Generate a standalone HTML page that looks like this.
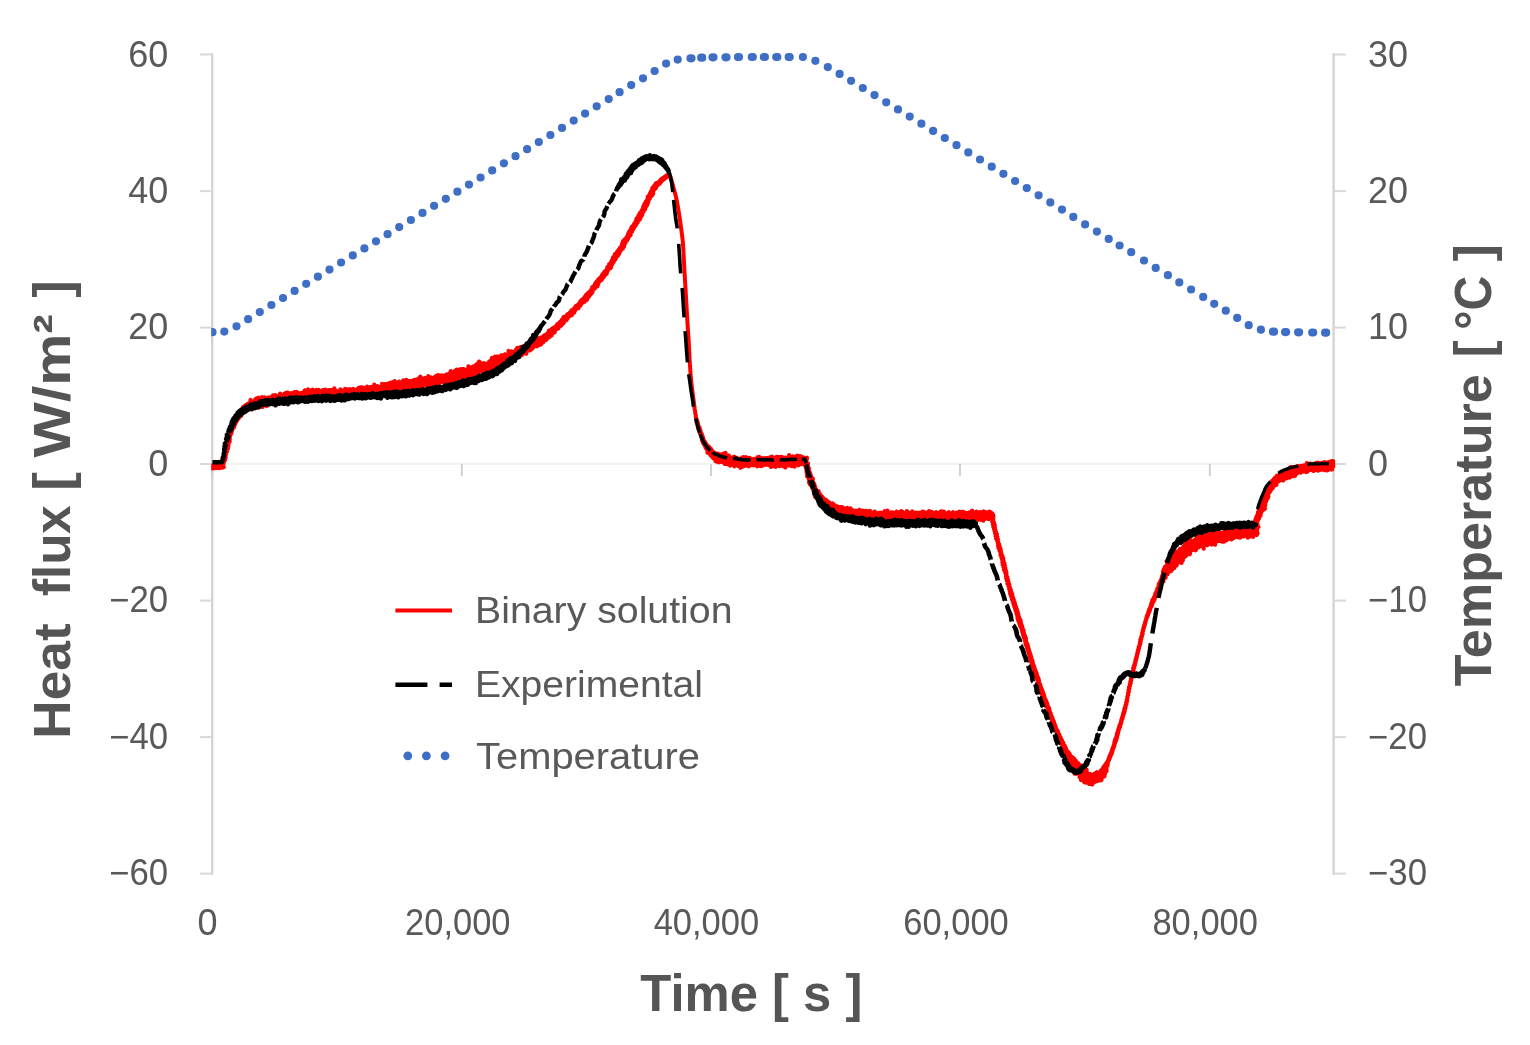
<!DOCTYPE html>
<html lang="en">
<head>
<meta charset="utf-8">
<title>Heat flux and temperature versus time</title>
<style>
html,body{margin:0;padding:0;background:#fff;}
body{width:1530px;height:1045px;overflow:hidden;}
svg{display:block;filter:blur(0.6px);}
text{font-family:"Liberation Sans",sans-serif;fill:#595959;}
.tick{font-size:36px;}
.ttl{font-size:51.5px;font-weight:bold;fill:#555;}
.leg{font-size:36.2px;}
.ax{stroke:#d4d4d4;stroke-width:2.4;fill:none;}
.ax .tk{stroke:#d9d9d9;stroke-width:2;}
</style>
</head>
<body>
<svg width="1530" height="1045" viewBox="0 0 1530 1045">
<rect width="1530" height="1045" fill="#fff"/>
<!-- axes -->
<g class="ax">
<line x1="212.2" y1="53.3" x2="212.2" y2="874.8"/>
<line x1="1333.6" y1="53.3" x2="1333.6" y2="874.8"/>
<line class="tk" x1="200" y1="54.5" x2="212.2" y2="54.5"/>
<line class="tk" x1="200" y1="191.1" x2="212.2" y2="191.1"/>
<line class="tk" x1="200" y1="327.6" x2="212.2" y2="327.6"/>
<line class="tk" x1="200" y1="464" x2="212.2" y2="464"/>
<line class="tk" x1="200" y1="600.6" x2="212.2" y2="600.6"/>
<line class="tk" x1="200" y1="737.1" x2="212.2" y2="737.1"/>
<line class="tk" x1="200" y1="873.6" x2="212.2" y2="873.6"/>
<line class="tk" x1="1333.6" y1="54.5" x2="1346" y2="54.5"/>
<line class="tk" x1="1333.6" y1="191.1" x2="1346" y2="191.1"/>
<line class="tk" x1="1333.6" y1="327.6" x2="1346" y2="327.6"/>
<line class="tk" x1="1333.6" y1="464" x2="1346" y2="464"/>
<line class="tk" x1="1333.6" y1="600.6" x2="1346" y2="600.6"/>
<line class="tk" x1="1333.6" y1="737.1" x2="1346" y2="737.1"/>
<line class="tk" x1="1333.6" y1="873.6" x2="1346" y2="873.6"/>
</g>
<line x1="212" y1="463.8" x2="1334" y2="463.8" stroke="#f2f2f2" stroke-width="2.2"/>
<g stroke="#cdcdcd" stroke-width="1.8" fill="none">
<line x1="212.3" y1="464" x2="212.3" y2="476"/>
<line x1="461.8" y1="464" x2="461.8" y2="476"/>
<line x1="711" y1="464" x2="711" y2="476"/>
<line x1="960" y1="464" x2="960" y2="476"/>
<line x1="1209.8" y1="464" x2="1209.8" y2="476"/>
</g>
<!-- temperature -->
<clipPath id="plot"><rect x="211.2" y="40" width="1124" height="840"/></clipPath>
<path d="M211.5 332.2h1.0M224.3 331.6h0M236.5 326.3h0M248.1 319.2h0M259.8 312.1h0M271.4 305.0h0M283.0 298.0h0M294.6 290.9h0M306.2 283.8h0M317.9 276.7h0M329.5 269.6h0M341.1 262.5h0M352.8 255.4h0M364.4 248.4h0M376.0 241.3h0M387.6 234.2h0M399.2 227.1h0M410.9 220.0h0M422.5 212.9h0M434.1 205.8h0M445.8 198.8h0M457.4 191.7h0M469.0 184.6h0M480.6 177.5h0M492.2 170.4h0M503.9 163.3h0M515.5 156.2h0M527.1 149.2h0M538.8 142.1h0M550.4 135.0h0M562.0 127.9h0M573.7 120.6h0M585.1 113.6h0M596.7 106.3h0M608.7 99.1h0M619.6 92.2h0M631.2 85.1h0M643.0 78.3h0M654.6 71.0h0M666.1 63.6h0M677.7 59.6h0M690.5 58.3h1.0M701.2 57.7h1.0M712.5 57.3h1.0M725.5 57.3h1.0M738.0 57.0h1.0M751.8 57.0h1.0M763.9 57.0h1.0M776.3 57.0h1.0M788.7 57.0h1.0M802.9 57.0h0M815.4 60.8h0M827.8 67.1h0M839.6 73.9h0M851.1 80.8h0M862.8 88.0h0M874.5 95.1h0M886.2 102.3h0M898.0 109.4h0M909.7 116.6h0M921.4 123.7h0M933.1 130.9h0M944.8 138.0h0M956.5 145.2h0M968.3 152.4h0M980.0 159.5h0M991.7 166.7h0M1003.4 173.8h0M1015.1 181.0h0M1026.8 188.1h0M1038.6 195.3h0M1050.3 202.4h0M1062.0 209.6h0M1073.3 216.9h0M1085.1 224.4h0M1096.9 231.6h0M1108.7 238.9h0M1119.6 245.5h0M1131.2 252.2h0M1144.0 260.5h0M1155.7 267.9h0M1167.9 275.2h0M1179.3 282.4h0M1191.1 289.5h0M1203.2 296.9h0M1214.2 303.8h0M1225.8 310.7h0M1237.2 317.9h0M1248.7 325.2h0M1260.9 329.7h0M1273.0 331.7h1.0M1285.1 332.1h1.0M1298.1 332.3h1.0M1312.2 332.5h1.0M1325.1 332.7h1.0" fill="none" stroke="#3f6ec5" stroke-width="8.2" stroke-linecap="round" clip-path="url(#plot)"/>
<!-- binary solution -->
<g fill="none" stroke="#ff0000" stroke-width="4" stroke-linejoin="round" clip-path="url(#plot)">
<path d="M212.1 464.5L212.2 468L212.7 465.2L212.8 468.6L213.3 465.3L213.4 468.2L213.9 465.3L214 468.3L214.5 464.9L214.6 468.3L215.1 465.4L215.3 467.6L215.7 465.1L215.9 467.8L216.3 465.3L216.5 467.9L216.9 465.1L217.1 468L217.4 465.9L217.7 468L218 465.6L218.3 468.1L218.6 466.2L218.9 468L219.2 466L219.5 468.3L219.7 466L220.4 467.7L219.9 465.8L221.3 467.6L219.8 465.8L222.6 467.7L220.1 465.7L223.9 467L220.9 464.6L223.5 464.4L221.5 462.5L224.1 462L222.3 460.4L225.3 459.9L222.3 457.8L225.8 457.2L223.6 455.2L226.1 454.3L224.5 452.4L227.1 451.5L224.8 449.5L228 448.8L225 446.8L228.5 446.2L225.3 444.1L228.8 443.6L226.4 441.7L229.8 441.2L227.1 439.3L229.9 438.8L227.9 437.1L229.9 436.6L228.5 435.1L230.7 434.8L228.5 433.1L231.6 433.1L229.4 431.4L231.9 431.4L229.8 429.7L232.5 429.8L230.6 428.2L233.1 428.4L231.2 426.7L234.2 427.2L231.5 425.2L234.4 425.8L232.1 423.9L235.1 424.6L232.3 422.5L235.5 423.4L233 421.3L236.1 422.3L234.2 420.5L236.7 421.2L234.5 419.2L237.3 420.2L235 418.2L237.8 419.2L236.2 417.6L238.7 418.5L236.3 416.3L238.9 417.4L236.9 415.4L239.7 416.7L237.8 414.7L240.7 416.1L237.7 413.3L241.5 415.5L238.5 412.6L241.4 414.1L239.4 412L242.6 413.8L240.1 411.3L242.9 412.9L240.3 410.1L243.5 412.2L241.8 410.1L244.2 411.7L242 409L244.8 411.2L243 408.7L245.5 410.8L242.9 407.4L246.4 410.8L243.5 406.7L246.7 410.2L244.7 406.9L246.4 408.6L244.9 406L246.9 408.1L245.7 405.6L248.4 408.9L246 404.7L249.4 409.3L246.9 404.6L249.2 407.8L247.4 404L249.4 406.9L248 403.7L250.5 407.5L248.8 403.5L251.2 407.5L249.9 404.2L251.6 407.1L250 402.6L252.3 407.2L250.3 401.5L253 407.4L250.5 399.8L253.8 408L251.7 401.1L254.1 406.9L252.7 401.8L255.2 408.4L253.5 402.3L255.6 407.8L253.8 401.2L255.6 406L254.7 401.6L256.3 406.3L255.2 401.3L257.3 407.6L255.3 399.3L257.8 407.1L256.1 399.4L258.5 407.3L256.5 398.5L259 407.1L257.1 398.3L259.1 405.1L257.7 398.1L259.9 405.8L258.3 397.6L260.5 405.8L259.2 398.9L261.3 406.6L259.9 398.7L261.8 406.2L260.5 398.5L262.6 407L261.1 398.7L262.8 405.3L261.8 398.7L263.2 404.3L262.1 397L264 405.1L262.9 397.7L264.4 404.1L263.5 397.7L264.9 403.2L264.1 397.5L265.8 404.8L264.7 397.2L266.6 406L265.5 398.2L267.2 405.7L266 397.9L267.6 404.4L266.8 398.6L268.2 404.4L267.2 397.7L268.8 404.3L268 398.3L269.4 404.1L268.5 397.6L269.9 403.8L269.2 397.9L270.4 402.8L269.8 397.9L271 403.1L270.3 397.6L271.6 402.6L270.9 397.5L272.2 402.7L271.6 397.7L273.1 404.3L272 396.5L273.7 404.2L272.7 396.8L273.9 402.1L273 395.3L274.8 403.3L273.8 396L275.2 402.4L274.6 396.9L275.8 402.1L275.2 396.7L276.4 402.3L275.5 395.1L277.1 402.8L276.3 395.9L277.5 401.2L276.9 396.2L278.1 401.2L277.6 396.3L279 402.7L278.3 396.7L279.8 403.9L278.8 396.5L279.9 401.2L279.6 397.2L280.7 402.2L279.7 394.2L281.2 401.4L280.2 393.5L281.9 401.8L281.1 395.3L282.4 401.4L281.8 395.9L283 401.2L282.4 395.6L283.6 401.3L283 395.6L284.2 401.6L283.7 395.6L284.9 401.8L284.1 394.1L285.5 402.1L284.6 393.5L286.1 401.5L285.2 393.7L286.5 400.5L285.9 394.1L287.1 400.4L286.3 392.7L287.6 399.7L287 392.8L288.3 400.4L287.6 392.6L289 401.1L288.4 394.1L289.4 399.4L288.8 392.9L290.1 399.8L289.5 393.2L290.7 400.3L290.1 393.4L291.4 400.7L290.8 394.1L291.9 399.7L291.3 392.9L292.4 398.9L292.1 394.1L292.9 398.7L292.8 394.8L293.8 400.8L293.2 393.7L294.3 400.2L293.8 393.3L294.9 399.9L294.3 392.1L295.4 399.3L295.1 393.4L296.1 400.1L295.6 392.6L296.7 399.5L296.2 392.6L297.2 399.1L296.7 391.8L297.8 399L297.4 392.5L298.5 400.2L298.1 392.8L299 398.5L298.7 393.3L299.6 399.1L299.3 393.3L300.3 399.7L299.9 393.2L301 400.7L300.6 393.9L301.6 400.3L301.2 393.5L302 398.2L301.7 392.8L302.6 399.1L302.3 392.7L303.2 398.3L302.9 392.5L303.7 397.2L303.6 393.4L304.4 398.4L304.1 391.9L305 398.1L304.5 390.6L305.7 399.9L305.1 390.2L306.2 398.9L305.9 391.7L306.9 399.3L306.5 392.1L307.3 397.3L307.1 391.6L308 398.1L307.7 391.5L308.6 398.2L308.1 389.3L309.2 398.1L309 392.4L309.8 397.9L309.6 392.6L310.4 397.9L310.1 390.8L310.9 397.3L310.6 390.4L311.6 398.5L311.3 390.8L312.1 397.7L311.9 390.7L312.7 396.9L312.4 389.6L313.3 397.8L313.1 390.6L313.9 397.9L313.7 391.3L314.6 398L314.4 392L315 396.4L315.1 392.7L315.6 396.2L315.6 391.3L316.3 397.8L316.1 389.8L316.9 397.4L316.8 392.1L317.5 396.7L317.4 391.4L318.1 397.7L318 390.7L318.7 398.3L318.5 389.7L319.4 399.6L319.3 391.9L319.9 397.9L319.8 390.5L320.5 398.8L320.4 391.1L321.1 397.1L321.1 392.1L321.7 397.5L321.7 391.3L322.2 397L322.2 390.4L322.9 398.1L322.8 390L323.4 397.1L323.5 390.7L324 396.8L324.1 391L324.6 397.5L324.6 389.9L325.2 397.2L325.2 389.5L325.8 396.8L325.9 391.1L326.4 397L326.5 390.4L327 397.7L327.1 391.4L327.6 397.4L327.7 391L328.2 397.6L328.3 390.1L328.8 399L328.9 390.6L329.4 397.4L329.5 390L330 397.8L330.1 389.9L330.6 398.7L330.7 390.4L331.2 397.2L331.3 390.8L331.8 396.3L331.9 390L332.4 397.3L332.5 390.1L333 396.3L333.1 390.5L333.5 395.6L333.7 390.5L334.2 396L334.3 388.3L334.8 397.7L334.9 389.9L335.4 397.7L335.5 390.4L336 399.4L336.1 390.6L336.6 398L336.7 391L337.2 396.1L337.3 391.3L337.8 397.8L338 391.5L338.4 397.3L338.5 391.3L339 398.3L339.2 391.9L339.6 398.3L339.7 390.9L340.2 397.3L340.3 389.3L340.8 398.3L341 391.6L341.4 397.5L341.6 391.8L342 398.3L342.1 390.8L342.6 397.4L342.7 391L343.2 396.8L343.3 390.7L343.8 398.5L343.9 390.1L344.4 398.4L344.5 390.5L345 397.8L345.1 388.8L345.6 396.7L345.7 389.7L346.2 397.1L346.3 390.5L346.9 397.9L346.9 390.7L347.4 396.7L347.4 389.3L348.1 398L348.1 390.4L348.6 395.7L348.7 390.8L349.2 395.4L349.3 390.2L349.8 396.2L349.8 388.9L350.5 396.7L350.5 391.3L351.1 396.4L351 389.9L351.6 395.3L351.6 389.7L352.2 395.5L352.2 390.1L353 398L352.7 389L353.5 396.2L353.3 388.8L354.1 396.3L354 390.4L354.7 395.7L354.5 389.7L355.5 396.9L355.2 390.3L356.2 397.7L355.7 389.9L356.5 395.2L356.3 390.5L357.2 395.6L356.9 389.7L358 397L357.4 389L358.7 397.7L358.1 389.8L359.1 395.9L358.4 387.9L359.6 394.6L359 388.1L360.3 395.1L359.5 387.6L360.7 394.1L360.1 387.2L361.4 394.6L360.8 388.4L362.2 395.4L361.5 388.5L363 396.7L361.9 387.3L363.6 396.6L362.6 388.2L363.9 394.7L363.2 388.3L364.4 393.9L363.8 387.8L365 393.8L364.4 388.1L366 395.6L365 387.8L366.3 393.8L365.7 388.3L366.9 393.8L366.4 389L367.7 394.7L366.9 388.5L368.1 393.5L367.2 386.6L368.8 394.2L368.2 388.5L369.7 395.8L368.9 388.9L370.2 394.8L369.4 388.4L370.9 395.8L369.9 387.8L371.3 394.5L370.4 386.9L372 394.9L371.2 388.2L372.4 393.4L371.7 387.2L373.2 394.7L372.2 386.7L373.7 394.3L372.8 386.8L374.2 393.2L373.5 387.1L374.6 392L374.1 387L375.5 393.6L374.3 384.4L375.9 392.6L375.3 386.6L376.6 393.2L376 386.9L377.3 393.6L376.5 386.4L377.9 393.5L377.1 386.2L378.6 393.8L377.6 386.1L379.1 393.4L378.3 386.5L379.9 393.9L379 387L380.3 392.7L379.6 386.8L381.1 393.9L380.3 387.3L381.3 391.6L381 387.6L381.9 391.4L381.5 387.1L382.6 391.7L381.9 386.1L383.2 391.8L382.1 383.8L383.9 392L383.2 386.1L384.4 391.1L383.8 386L385.2 392.5L384.4 386L385.7 392L384.6 383.9L386.1 390.5L385.3 384.2L386.7 390.2L386 384.6L387.5 391.4L386.5 383.9L388.1 391.4L387.4 385.8L388.4 389.7L387.9 385L389.1 389.8L388.6 385.3L389.9 391.2L388.8 383.2L390.3 389.8L389.6 384L391 390.4L390 382.7L391.3 388.4L390.6 382.8L392 388.8L391.5 384.1L392.8 389.7L391.9 382.7L393.3 389.2L392.4 382.2L394 389.7L393 381.9L394.9 391.6L393.6 382.2L395.2 389.7L394.2 381.9L395.9 390.3L394.7 381L396.6 390.6L395.6 383L397.4 391.8L396.4 383.9L397.8 390.7L397 383.6L398.3 389.5L397.6 383.7L398.7 388.8L398 382.3L399.3 388.3L398.6 382.4L400.2 389.9L399.1 381.4L400.8 389.9L399.8 381.9L401 387.4L400.5 382.6L401.6 387.5L401.1 382.4L402.4 388.8L401.8 382.8L402.8 387.3L402.3 381.8L403.5 387.8L403.1 383L404.2 388.5L403.3 380.3L404.7 387.7L404 380.7L405.5 389.1L404.8 382.5L406 388.7L405.6 383.4L406.5 387.7L406 381.8L406.9 386.2L406.3 379.7L407.6 387.1L407.2 381.9L408.5 388.8L407.9 382.8L409.2 389.3L408.3 381.2L409.7 388.9L409.1 382L410.3 388.7L409.5 381.1L411 389.3L410.2 381.1L411.5 388.3L410.8 381.6L412 387.5L411.4 381L412.5 387.1L411.9 380.7L413.2 387.2L412.6 381L413.6 386L413.3 381.9L414.2 385.5L413.8 380.6L414.9 386.4L414.2 379.8L415.6 386.9L415 380.6L416 385.4L415.5 379.8L416.7 385.9L416.1 379.8L417.5 387.4L416.7 379.6L417.9 385.9L417.2 379.4L418.5 385.5L417.8 379.1L419.4 387.4L418.4 379.1L420 387.7L418.9 378.5L420.5 386.7L419.4 377.7L421.2 387.4L420.2 378.6L421.8 387.1L420.4 376.4L422.3 386.1L421.4 378.5L423 386.6L422 378.6L423.4 385.6L422.7 379.1L423.8 384.2L423.2 378.5L424.4 384.1L423.9 379.1L425.2 384.8L424.5 379.3L425.7 384.2L424.9 378L426.5 385.1L425.7 378.6L427.2 386.1L426.1 377.9L427.9 386.1L426.8 377.9L428.3 385.1L427.3 377.6L429.1 385.8L427.9 377.3L429.7 385.9L428.3 376.1L430.2 385.5L429.1 377L430.8 385L429.8 377.8L431.1 383.3L430.5 378.3L431.8 383.6L430.9 377.2L432.4 383.7L431.8 378.3L433 383.2L432.3 378.1L433.5 382.8L433 378.6L434.3 383.7L433.5 377.8L434.9 383.4L434.2 378.3L435.8 385.1L434.6 377.1L436.1 383.4L435.2 377.1L436.4 381.8L435.7 376.3L437.5 384.4L436.4 376.8L438 383.6L436.8 375.6L438.5 382.9L437.7 376.8L439.2 383.1L438.2 376.2L439.5 381.6L438.5 374.9L440.4 382.7L439.3 375.7L440.8 382L439.9 375.9L441.4 381.5L440.5 375.5L441.8 380.6L441.2 375.8L442.5 380.8L441.8 375.9L443.2 381.1L442.3 375.2L444.1 382.4L443.1 376L444.7 382.5L443.9 377.2L445.3 382L444.6 377.1L445.8 381.5L444.9 376.1L446.6 382.1L445.6 376.4L447.1 381.5L445.9 374.7L447.8 381.8L446.5 374.9L448.5 382.1L447 374.3L449.5 383.6L448 375.7L449.9 382.8L448.5 375.1L450.5 382.2L449 374.9L450.8 381.1L449.4 373.6L451.3 380.3L450.4 375.2L452 380.3L450.4 372.8L452.3 379.1L450.6 371.1L453.2 380L452 374.2L454 380.7L452.6 374.1L454 378.3L453.4 374.7L455.2 380.2L453.4 372.3L455.7 379.6L453.8 371.4L455.9 378L454.5 371.7L456.6 378.3L455.2 371.9L457.4 378.8L456.2 373.2L457.8 377.9L456.4 371.6L458.2 377.1L456.5 369.6L459 377.4L457.6 371.4L459.7 377.6L457.9 370.3L460.3 377.6L458.8 371L461.2 378.5L459.5 371.4L461.5 377.2L459.9 370.4L461.9 376.3L460.2 369.1L462.6 376.3L461.2 370.3L463.3 376.5L461.6 369.6L464.2 377.2L462.2 369.4L464.5 376.1L462.7 369L465.5 377.2L463.4 369L465.8 376.1L464.1 369.3L466.2 375.2L464.9 369.6L467.2 376.5L465.6 369.9L467.8 376.1L466.4 370.4L468.7 376.8L467 370.3L469 375.6L467.5 369.6L469.8 376.3L468 369.3L470.6 376.7L468.2 367.9L470.8 375.2L468.4 366.2L471 373.6L469.3 367L471.7 373.9L470.1 367.5L472.2 373.1L470.8 367.6L473.3 374.8L471.5 367.8L473.7 373.7L472 367.6L474.3 373.6L472.7 367.5L475 373.7L473 366.4L475.7 373.7L473.8 367L476.4 373.8L474.5 367.1L476.6 372.4L475.3 367.4L477.4 372.8L475.8 367L477.9 372.3L476.1 365.9L478.5 372L476.2 364.3L479.1 371.9L477.4 365.8L479.5 371.1L478.1 366L479.8 370.1L478.1 364.1L480.7 370.7L478.8 364L481.5 370.9L478.7 361.9L482 370.4L479.2 361.5L482.5 370.1L480.2 362.5L483 369.5L481.2 363.4L483.6 369.2L482.4 364.9L484.6 370.1L482.7 363.8L485.6 371.1L483.2 363.4L486.5 371.7L483.8 363.1L486.9 370.8L484.6 363.5L487.2 369.9L485.7 364.7L488.3 370.9L486.2 364.1L488.6 369.8L486.9 364.4L489.2 369.7L487.3 363.4L489.9 369.6L488 363.7L490.4 369.1L488.8 363.9L490.9 368.5L488.9 362.4L491.8 369.1L489.2 361.4L491.9 367.6L489.9 361.5L492.6 367.5L490.3 360.8L492.6 365.7L491.2 361.3L492.9 364.8L491.3 359.8L494.3 366.6L491.9 359.4L495.4 367.6L491.9 357.8L495.2 365.4L493.5 360.1L496.1 365.8L494.2 360L497.4 367.3L494.8 359.8L497.3 365.1L495.2 359.1L498.1 365.4L494.8 356.6L499 365.9L495.7 356.9L499.4 365.1L496.9 358.1L499.7 364.2L496.9 356.5L500.3 364L498 357.5L501 363.9L498.2 356.5L501.2 362.6L499.4 357.5L501.6 362L500.4 358.3L503.1 363.8L500.8 357.5L503.5 363L501.1 356.6L503.5 361.4L501.2 355.2L505 363.3L502.1 355.7L505.4 362.6L502.9 355.9L506.1 362.4L503.3 355.2L506.4 361.5L504.5 356.2L507.4 362.2L505.1 356L508.1 362.1L505 354.2L508.2 360.6L506.5 356L509.1 361L507.2 355.8L509.5 360.4L507.2 354.4L510.1 360.1L507.9 354.4L510.9 360.2L508.3 353.6L511.5 360L508.9 353.4L511.7 358.7L508.5 350.9L512 357.9L510.3 353.3L513 358.4L510.8 352.8L513.6 358.1L511.3 352.3L514.8 359.2L511.5 351.2L514.7 357.4L512.9 352.7L515.2 357L513.2 351.7L516.3 357.6L513.9 351.6L517 357.7L514.6 351.6L516.9 355.9L515.3 351.5L517.5 355.4L515.7 350.8L518 355L515.9 349.6L518.9 355.3L516.9 350.2L519.6 355.3L517.4 349.8L520.2 355.1L517.2 347.8L520.3 353.6L518.3 348.6L521.8 355.3L519.1 348.9L522.1 354.3L519.2 347.6L522.1 352.7L520.2 348L522.9 352.9L520.9 348L523.5 352.6L521.1 346.8L524.6 353.3L522 347.3L525 352.6L523.1 347.9L526.3 353.8L523.6 347.4L526.4 352.4L523.7 346.2L526.4 350.8L524.4 346.1L527.3 351.1L525 345.9L527.9 350.8L525.7 345.8L528 349.5L526.1 345.1L528.8 349.6L526.7 344.7L530 350.5L527.1 344L530.1 349.1L528.4 345.2L530.8 349L528.6 344.1L531.8 349.4L529.3 343.9L532.1 348.5L529.6 343L532.7 348.1L529.7 341.9L533.2 347.7L530.2 341.4L533.6 347L531 341.5L534 346.2L532.3 342.4L534.4 345.5L532.9 342.1L535.5 346.1L533.3 341.4L536.1 345.7L534.1 341.4L537.2 346.3L534.4 340.6L537.5 345.3L535.3 340.8L537.9 344.8L536.4 341.4L539 345.2L537 340.9L539.7 345.1L537.3 340.2L540.3 344.7L537.6 339.3L541 344.5L537.8 338.3L540.9 343L539 339.1L541.7 342.9L539.9 339.2L542.4 342.6L540.3 338.5L543.2 342.5L540.5 337.6L543 340.9L541.7 338.2L543.9 340.9L542.3 337.8L544.5 340.5L542.6 337L545.3 340.2L543.4 337L546.1 340L544.1 336.6L546.6 339.4L544 335.4L546.7 338.3L545 335.5L547.1 337.6L545.5 334.9L547.9 337.2L546.1 334.5L549 337.3L547 334.3L549.8 336.9L547.7 333.9L550.3 336.3L547.7 332.8L550.5 335.3L549.1 333.2L551.7 335.4L549.3 332.2L551.8 334.2L548.9 330.6L552.6 333.8L549.8 330.4L552.5 332.6L551 330.4L553.4 332.3L551.7 329.9L554.7 332.3L551.8 328.8L554.7 331.1L552.5 328.3L555.2 330.5L553.6 328.3L555.6 329.6L553.9 327.3L556.3 329.2L555 327.2L557.2 328.8L555.8 326.9L558 328.5L556.4 326.2L558.7 328L556.5 325.2L558.7 326.8L557.1 324.6L559.1 326L557.6 323.9L559.8 325.5L558.8 323.9L561.1 325.7L559.3 323.2L561.4 324.7L559.7 322.4L562.2 324.4L560.2 321.7L562.8 323.8L561.1 321.5L563.2 323L561.8 320.9L564 322.5L561.7 319.7L564.3 321.6L562.4 319.2L564.5 320.7L563 318.6L565.5 320.4L563.4 317.7L566.5 320.2L563.7 316.9L566.7 319.2L565 316.9L566.9 318.2L565.9 316.6L567.9 318L566.3 315.8L568.1 317L566.7 315L568.7 316.4L567.4 314.6L569.6 316.1L568 313.9L570 315.3L569 313.7L571.3 315.4L569.5 313L572.1 315L569.9 312.2L571.8 313.6L570.9 312L572.5 313L571.4 311.3L573.5 312.8L571.5 310.2L574.3 312.5L572.6 310.2L574.5 311.4L573.3 309.7L575 310.8L573.9 309L575.5 310L574.2 308.1L575.8 309.1L574.9 307.7L576.5 308.7L575.4 307L577.4 308.4L575.7 306.1L578.5 308.2L576.4 305.5L578.4 306.9L577.1 305.1L579.1 306.4L578 304.8L579.8 305.9L578.6 304.1L580.6 305.5L579.2 303.5L580.8 304.5L579.6 302.7L581.3 303.8L580.3 302.2L582 303.2L580.4 301.1L582.3 302.3L581.3 300.8L583.1 301.8L581.7 299.9L584.5 301.9L582.2 299.2L584.8 301L583 298.8L585.2 300.3L583.8 298.3L586.5 300.2L584.3 297.6L587.2 299.6L584.7 296.8L587.1 298.3L585.6 296.3L587.9 297.8L586.2 295.7L588.6 297.2L586.2 294.5L588.9 296.3L587.1 294.1L589.6 295.6L587.8 293.5L590.2 294.9L588.2 292.7L590.9 294.2L589.2 292.3L591.4 293.4L589.6 291.4L592.2 292.7L590.6 290.9L592.5 291.7L591.3 290.2L592.9 290.7L591.5 289.1L593.3 289.8L592.1 288.3L594 289L592.3 287.1L595 288.4L593.1 286.4L595.4 287.4L594.1 285.8L596.3 286.7L594.7 285L597.4 286.3L595 283.9L597.6 285.2L595.5 283L598.2 284.3L596.2 282.2L598.5 283.4L596.7 281.4L598.9 282.4L597.7 280.8L599.5 281.7L597.9 279.8L599.8 280.7L598.6 279.2L600.9 280.4L599.2 278.4L601.7 279.9L599.9 277.7L602.2 279.1L600.8 277.3L602.8 278.4L601.3 276.5L603.1 277.4L601.7 275.6L603.9 276.9L602.4 275L604.5 276.1L602.6 274L604.7 275L603.7 273.6L605.7 274.5L604.1 272.7L606.5 273.8L604.4 271.7L607.1 272.9L605.2 271L607.3 271.8L606 270.3L607.9 270.8L606.7 269.4L608.3 269.7L607.2 268.3L609.1 268.8L607.3 267.1L610.4 268.3L608.2 266.3L611.2 267.3L609 265.3L611.2 266L609.2 264L611.9 264.9L610.3 263.3L612.3 263.8L611 262.3L613.1 262.9L611.4 261.2L613.7 262L612 260.2L614.1 260.8L612.5 259.2L614.9 260L612.9 258.1L615.6 259.2L613.2 257L616 258.2L614.7 256.7L616.2 257.1L615.1 255.7L616.9 256.2L614.8 254.1L618 255.7L616 253.7L618.5 254.8L616.9 253L619.1 253.9L617 251.8L619.5 252.9L617.6 251L620 251.9L618.5 250.3L620.6 251L619 249.3L621 250L619.6 248.4L621.9 249.3L620.1 247.4L622.9 248.5L621 246.7L623.4 247.4L621.8 245.8L624.2 246.6L621.9 244.5L624.1 245.1L622.2 243.4L624.7 244.1L622.7 242.3L625.3 243.1L623 241.1L625.9 242.1L624.1 240.4L626.5 241L624.6 239.3L627.4 240.2L625.9 238.6L628 239.1L626.4 237.5L628.4 238L627.2 236.5L629 236.9L627.6 235.4L629.5 235.7L628 234.2L630.7 235.1L628.4 233L630.4 233.5L629 232L631 232.4L629.6 231L632.1 231.7L630.4 230L632.4 230.5L631.1 229L633.1 229.5L631.3 227.8L633.6 228.5L631.8 226.7L634.4 227.5L632.9 226L634.9 226.4L633.6 225L635.6 225.5L634.1 223.9L636.3 224.5L634.7 222.9L636.8 223.4L635.7 222L637.7 222.5L635.9 220.8L638 221.3L636.3 219.6L638.7 220.3L636.5 218.3L639.9 219.5L637.7 217.6L640.4 218.3L638.7 216.7L640.8 217.2L638.5 215.2L641.2 216L639.3 214.2L642.2 215.1L639.7 213L642.5 213.8L640.9 212.2L642.8 212.6L641.3 211.1L643.7 211.6L642 210L644.1 210.4L642.6 208.8L645 209.4L643.2 207.7L645.4 208.1L643.3 206.3L646 206.9L644.4 205.4L646.7 205.8L644.3 203.9L647.4 204.7L645.5 203L647.8 203.3L645.7 201.6L648.3 202.1L646.6 200.5L648.5 200.7L647.5 199.4L649.2 199.5L647.7 198.1L650 198.4L647.8 196.6L650.3 197.1L649 195.7L651.5 196.1L649.5 194.4L652.4 195L650.1 193.1L653.3 193.8L650.8 191.8L653.2 192.1L651.4 190.5L653.4 190.7L652.2 189.3L654.4 189.7L652.3 187.9L655.2 188.9L653.2 187L655.9 188.2L654.3 186.4L656.1 187.2L654.4 185.3L656.2 186.1L655.2 184.7L656.9 185.6L655.6 183.8L657.7 185.3L656 183L658 184.4L657.3 183.1L658.6 183.8L658.1 182.7L659.6 183.8L658.5 182L660 183.1L659.1 181.4L660.6 182.5L659.7 181L661.2 181.9L660.2 180.3L661.5 181.1L660.7 179.6L662.2 180.6L661.4 179.1L662.7 180L662.1 178.7L663.4 179.6L662.6 178L664.1 179.2L663.4 177.7L664.6 178.6L664 177.2L665.2 178.1L664.6 176.8L665.9 177.9L665.3 176.4L666.2 177.1L665.8 175.9L666.8 176.7L666.5 175.5L667.3 176.4L667.2 175.2L667.8 176.1L668 174.7L668.2 175.9L668.8 174.8L668.5 175.8L669.4 175.1L669.2 176L670 176.2L669.8 177L670.6 177.5L670.5 178.4L671.2 178.9L671.1 179.8L671.7 180.7L671.8 181.7L672.2 182.8L672.5 184L672.8 185.1L673.1 186.2L673.4 187.3L673.7 188.4L674 189.4L674.3 190.5L674.6 191.6L674.9 192.8L675.2 193.9L675.5 195.1L675.8 196.4L676.1 197.6L676.4 199L676.7 200.4L677 201.9L677.3 203.5L677.6 205.1L677.9 206.9L678.2 208.7L678.5 210.5L678.8 212.3L679.1 214.2L679.4 216.2L679.7 218.1L680 220.2L680.3 222.3L680.6 224.4L680.9 226.7L681.2 228.9L681.5 231L681.8 233.2L682.1 235.5L682.4 238L682.7 240.8L683 244.2L683.3 248.6L683.6 254L683.9 259.8L684.2 265.8L684.5 271.5L684.8 276.8L685.1 281.9L685.4 286.9L685.7 292L686 297.1L686.3 302.3L686.6 307.6L686.9 313L687.2 318.3L687.5 323.4L687.8 328.1L688.1 332.4L688.4 336.8L688.7 341.7L689 347.4L689.3 353.3L689.6 359.1L689.9 364.1L690.2 368.7L690.5 373.1L690.8 376.9L691.1 380.2L691.4 383.2L691.7 385.8L692 388.3L692.3 390.6L692.6 392.8L692.9 395L693.2 397.3L693.5 399.6L693.8 402L694.1 404.4L694.5 406.9L694.6 409.3L695.2 411.5L695.2 413.6L695.9 415.4L695.7 417L696.5 418.4L696.1 419.8L697.4 420.9L696.5 422.3L698 423.2L697.3 424.5L698.5 425.3L697.8 426.6L699.4 427.1L698 428.6L699.9 429L698.9 430.3L700.6 430.7L699.5 432.1L701 432.6L700.2 433.9L701.9 434.2L700.9 435.6L702.5 435.9L701.3 437.3L703 437.6L701.9 438.9L703.4 439.2L702.1 440.6L704.1 440.5L702.9 441.9L705 441.7L703.2 443.3L705.7 442.7L703.9 444.4L706 443.9L704.6 445.4L706.3 445L705.3 446.3L707.5 445.6L705.5 447.5L708 446.5L706 448.5L709.2 446.9L707.1 449.1L709.5 447.9L707.4 450.1L709.8 448.8L707.6 451.2L711.1 448.8L707.5 452.7L711.1 449.9L708.8 452.7L711.6 450.6L709.2 453.6L712.4 450.9L710.1 453.9L712.6 451.8L711 454.2L713.4 452L710.8 455.7L714.1 452.3L711.4 456.3L714.3 453.3L712.3 456.5L715.3 453.1L713.5 456.2L715.9 453.4L713.1 458.2L716.4 453.8L713.9 458.4L717.3 453.6L714.6 458.9L718.1 453.6L715.6 458.6L718.5 454.1L715.4 460.7L719 454.4L715.9 461.5L719.1 455.6L717.2 460.6L720.3 454.3L717.8 461.1L720.7 454.8L718.1 462.3L721.5 454.4L719.2 461.4L722 454.7L719.7 462.1L722.3 455.6L721.2 459.9L723.7 453.5L721.7 460.2L723.9 454.6L721.9 461.8L724.8 453.7L722.5 462.3L725.6 452.8L723.2 462.3L725.8 454.3L723.9 462.4L725.7 456.7L724.5 462.8L726.3 456.6L724.8 464.1L726.9 456.6L726.1 461.6L727.6 456.2L726.6 462.4L728.1 456.2L727 464.1L728.8 455.4L727.6 464.2L729.2 456.4L728.4 463.8L729.7 457L729.1 462.9L730.2 457.4L729.8 462.7L730.7 458.1L730 465.7L731.3 457.9L730.8 464.5L731.8 458.5L731.4 465L732.5 457.8L732.1 464L733.2 456.9L732.8 463.2L733.8 456.9L733.5 462.4L734.5 456.6L733.8 465.1L735 457.5L734.3 466.5L735.5 458L735.3 463.2L736 458.6L735.9 462.6L736.7 457.7L736.4 463.7L737.3 458.3L737 464L737.8 459.3L737.6 464.3L738.4 459.3L738.1 466.1L738.9 460.3L738.7 465.7L739.5 460.4L739.4 465L740.2 459.3L739.9 466.6L740.8 458.2L740.4 467.9L741.4 458.6L741.1 467.4L742 457.9L741.8 466L742.6 457.7L742.4 466.8L743.2 457.1L743 466.5L743.8 457.6L743.7 465.5L744.4 457.8L744.3 466L744.9 458.7L745 465.6L745.6 456.9L745.6 464L746.1 458.9L746.3 463.5L746.7 457.6L746.8 465.1L747.2 459L747.4 465.8L747.8 458.2L748.1 464.6L748.4 457.9L748.7 466.4L749 458.6L749.3 465.6L749.6 457.7L749.9 463.8L750.2 458.3L750.5 464.6L750.8 458.4L751.1 464.7L751.4 458.8L751.7 464.7L752 459L752.3 465.3L752.6 459.8L752.9 465.5L753.2 459.1L753.5 464.9L753.8 458.8L754.1 465.3L754.4 460.1L754.7 465.1L755 460.7L755.3 464.6L755.6 459.7L755.9 465.3L756.2 458.5L756.5 465.1L756.8 458.5L757.1 466.4L757.4 457.3L757.7 465.2L758 458.4L758.3 465.4L758.6 457.4L758.9 465.1L759.2 456.7L759.5 465.4L759.8 458.2L760.1 465.5L760.4 457.8L760.7 466.2L761 459.9L761.3 464.7L761.6 459.6L761.9 466L762.2 459L762.5 465.7L762.8 458.8L763.1 465L763.4 458L763.7 464.7L764 458.8L764.3 464.8L764.6 459.1L764.9 464.2L765.2 459.3L765.5 465L765.8 457.9L766.1 464.2L766.4 458L766.7 464.8L767 458.6L767.3 464.4L767.6 458L767.9 463.2L768.2 458.4L768.5 464L768.8 458.5L769.1 464.1L769.4 459L769.7 465.5L770 457.2L770.3 465L770.6 458.4L770.9 466.9L771.2 456.7L771.5 465.6L771.8 456.6L772.1 466.6L772.4 457.9L772.7 466.2L773 457.3L773.3 464.8L773.6 458.4L773.9 464.8L774.2 458.7L774.5 465.5L774.8 457.9L775.1 465.3L775.4 458.4L775.7 467L776 457.8L776.3 464.7L776.6 456.7L776.9 465.3L777.2 457L777.5 465.1L777.8 456.7L778.1 464.4L778.4 459.1L778.7 465.9L779 457.7L779.3 466.2L779.6 456.9L779.9 464.8L780.2 458L780.5 465.5L780.8 457L781.1 465.4L781.4 457.5L781.7 465.3L782 456.7L782.3 465.1L782.6 457.8L782.9 466.3L783.2 458.1L783.5 465L783.8 458L784.1 464L784.4 458.9L784.7 465.9L785 457.6L785.3 467.6L785.6 457.4L785.9 465.7L786.2 457.7L786.5 465.2L786.8 459L787.1 463L787.4 458.6L787.7 465.4L788 459.4L788.3 465.4L788.6 458L788.9 465.4L789.1 455.1L789.5 464.3L789.8 458.5L790.2 465.6L790.4 459L790.8 464.8L790.9 458.8L791.4 465.2L791.5 457.7L792 466.3L792.1 456.9L792.6 464.4L792.6 456.3L793.2 464.7L793.3 457.9L793.8 464.6L793.9 458.7L794.5 466.7L794.4 457.6L795.1 464.9L795 456.7L795.7 464.9L795.6 456.9L796.3 464.6L796.2 458.1L796.9 464.3L796.7 456.3L797.5 464.3L797.2 455.4L798.2 465.5L798 458L798.8 465.2L798.5 456.8L799.3 463.7L799 456L799.9 463.5L799.7 456.8L800.4 462.8L800.2 456L801 462.4L800.8 457.4L801.7 462.9L801.2 456.5L802.3 462.6L801.8 457.3L803 462.8L802.5 457L803.1 463.8L804.6 457.7L801.7 464.3L806.9 457.5L800.8 463.6L806.9 459.1L802.2 462.4L806.3 461.3L803.7 463.7L808 463.3L805 465.5L808.1 465.8L805.8 467.8L809 468.2L806.3 470.3L809.1 470.6L806.6 472.4L810 472.4L807 474.4L810.6 474.2L807 476.4L811.1 475.9L808.4 477.8L811.9 477.4L808.9 479.5L813 478.8L809.1 481.2L812.7 480.7L809.1 483L813.2 482.2L809.9 484.4L814.3 483.6L811.3 485.6L814.6 485.2L812.1 487.1L815.2 486.6L812.7 488.6L815.3 488.3L813.3 490L816.3 489.4L813.7 491.5L817.2 490.6L814.2 492.8L818.8 491.3L814.8 494L818.4 492.8L814.7 495.5L818.8 493.9L815 496.8L820.3 494.4L816.1 497.6L820.3 495.7L816.8 498.6L821.6 496.2L817.7 499.4L822.4 496.9L819.4 499.6L822.9 497.6L820 500.5L823.4 498.3L820.3 501.5L822.6 500.1L819.1 504L823.8 500.1L820.6 503.9L824.9 499.9L821.6 504.1L825.9 499.6L822.4 504.6L826.3 500L822.7 505.6L826.1 501.4L823.7 505.6L826.7 501.7L824.6 505.5L827.5 501.5L825.1 506.2L828.1 501.6L825.4 507.2L828.6 502L825.6 508.3L829.2 502.3L826.2 508.7L829.5 503L827.1 508.6L830 503.5L827.9 508.5L830.2 504.5L828.5 508.8L831.5 503.5L828.8 509.7L832.1 503.6L829 510.8L832.9 503.4L829.6 511.2L833 504.9L830.9 510L833.8 504.6L831.6 510.3L834.3 504.9L832.4 510L834.9 505.2L832.5 511.5L835.2 506.1L832.9 512.3L835.7 506.6L834.3 510.8L836.5 506.1L834 513.2L836.9 506.9L834.9 512.9L837.3 507.5L835.8 512.6L838.2 506.9L836.6 512.1L838.8 506.9L837.2 512.4L839.4 507L837.6 513.3L839.9 507.5L838.5 512.8L840.6 507.1L838.8 514.1L841.1 507.8L839.8 513L842 507L840.4 513.2L842.2 508.2L841.1 512.9L842.9 508.1L841.3 514.6L843.4 508.8L841.9 514.8L844.2 508.1L842.7 514.2L844.7 508.6L843.5 513.9L845.3 508.9L844.1 514.1L846 508.7L844.2 515.8L846.6 508.6L844.8 516.2L847.5 507.9L845.4 516.3L847.8 508.9L846.2 515.7L848.4 509L847 515.5L849 509.2L847 517.7L849.6 509.4L847.7 517.8L850.5 508.2L848.6 516.8L850.6 510L849.1 517.5L851.3 509.8L850 516.4L851.7 510.7L850.7 516.2L852.4 510L851.3 516.5L852.7 511.4L851.6 518.3L853.3 511.7L852.3 518.1L854 511L853.1 517.4L854.6 510.8L853.8 517.3L855.1 511.6L854.3 517.7L855.8 510.6L854.6 520.2L856.4 510.8L855.5 518.5L856.9 511.2L856.3 517.4L857.5 510.8L856.9 518.3L857.9 511.8L857.6 517.3L858.6 511L858.2 518.1L859.3 509.7L858.9 517.3L859.8 510.1L859.5 517.2L860.3 511.1L860.1 518.3L860.8 511.7L860.7 518.3L861.5 511.3L861.2 519.3L862.1 511.5L861.9 518.3L862.7 510.4L862.4 519.2L863.2 512.4L863 519.2L863.8 512.5L863.6 519.7L864.3 513.1L864.2 520.1L865 512L864.9 518L865.7 510.8L865.5 518.5L866.2 512.8L866.1 518.8L866.9 511L866.7 518.6L867.4 511.9L867.3 518.5L867.9 513.2L868 518L868.6 512.5L868.5 518.8L869.2 511.8L869.1 519.4L869.9 510.8L869.8 518.4L870.4 512.7L870.4 518L870.9 513.1L871 518.3L871.5 512.9L871.6 518L872.2 512.5L872.1 519.2L872.7 512.7L872.8 518.5L873.4 512.5L873.4 518.2L873.9 512.8L874 518.7L874.6 511.6L874.5 520.4L875.1 513.3L875.1 520.4L875.7 512.3L875.7 522.4L876.3 513.9L876.3 520.5L876.9 513.3L877 519.2L877.4 514.7L877.6 519.5L878 515.5L878.1 522.3L878.7 514.1L878.8 519.4L879.3 512.8L879.4 519.2L879.9 513L880 519.6L880.5 513L880.6 520.3L881.1 512.6L881.2 520.3L881.7 512.7L881.8 520.9L882.3 512.8L882.5 518.4L882.9 513.1L883 520L883.5 512.9L883.6 520.3L884.1 512.8L884.3 517.7L884.7 511L884.9 519.3L885.2 514.3L885.5 519.7L885.8 514.1L886.1 520.6L886.4 514.2L886.7 520.3L887 512.3L887.3 519.5L887.6 510.6L887.9 520.4L888.2 511.8L888.5 520.3L888.8 512.9L889.1 519.4L889.4 513.1L889.7 518.6L890 513.2L890.3 518.2L890.6 513L890.9 519.8L891.2 512.3L891.5 519.9L891.8 513.1L892.1 520.8L892.4 512.9L892.7 521.2L893 512.3L893.3 520.1L893.6 513.6L893.9 520.9L894.2 513.8L894.5 521.1L894.8 514.3L895.1 521.5L895.4 513.4L895.7 521.4L896 512.6L896.3 520.5L896.6 511.6L896.9 519L897.2 514.3L897.5 520.6L897.8 514.1L898.1 520.1L898.4 513.3L898.7 519L899 513.7L899.3 518.3L899.6 513.8L899.9 519.7L900.2 511.5L900.5 518.5L900.8 511.9L901.1 519.5L901.4 510.9L901.7 519.1L902 512.2L902.3 519.6L902.6 511.8L902.9 519.9L903.2 512.4L903.5 520.5L903.8 513.4L904.1 521.9L904.4 513.9L904.7 520.5L905 514.2L905.3 520.3L905.6 513.4L905.9 519.8L906.2 512.7L906.5 517.8L906.8 511.1L907.1 518.4L907.4 511.3L907.7 519L908 512.2L908.3 519.4L908.6 512.5L908.9 519.9L909.2 513.2L909.5 520.1L909.8 513.7L910.1 520L910.4 513.9L910.7 520.3L911 513.4L911.3 518.8L911.6 512.2L911.9 519.5L912.2 511.3L912.5 520.9L912.8 512.7L913.1 519.1L913.4 513.8L913.7 518.1L914 513.6L914.3 519.3L914.6 512.5L914.9 518.6L915.2 513.9L915.5 518.6L915.8 513.1L916.1 520.8L916.4 513.1L916.7 519.7L917 512.6L917.3 518.4L917.6 512.8L917.9 519.4L918.2 513.2L918.5 519.6L918.8 514.4L919.1 520.4L919.4 512.8L919.7 519L920 512.7L920.3 520.8L920.6 513.6L920.9 518.5L921.2 513.3L921.5 518.9L921.8 512.7L922.1 518.4L922.4 511.5L922.7 518.9L923 512.1L923.3 518.5L923.6 511.8L923.9 519.1L924.2 512L924.5 520.5L924.8 513L925.1 519.3L925.4 513.4L925.7 518L926 513.8L926.3 518.2L926.6 513.3L926.9 518.5L927.2 513.1L927.5 518.3L927.8 512.1L928.1 518.4L928.4 511.5L928.7 519.7L929 510.9L929.3 521.3L929.6 513.1L929.9 522.2L930.2 512.4L930.5 520.5L930.8 511.8L931.1 519L931.4 512.1L931.7 519L932 512.6L932.3 519.6L932.6 512.3L932.9 520.2L933.2 513.1L933.5 520.9L933.8 514.1L934.1 519.3L934.4 514.7L934.7 519.2L935 514.5L935.3 521.4L935.6 512.5L935.9 520.4L936.2 512L936.5 518.9L936.8 512.5L937.1 518.7L937.4 513.8L937.7 519.8L938 513.6L938.3 521.1L938.6 513.8L938.9 519.7L939.2 513.3L939.5 519L939.8 513.6L940.1 518.8L940.4 511.6L940.7 520.8L941 512.6L941.3 520.3L941.6 511.3L941.9 520.3L942.2 512.6L942.5 518.9L942.8 513.7L943.1 518.9L943.4 512.7L943.7 521L944 511.5L944.3 521.1L944.6 512.8L944.9 520.3L945.2 514.5L945.5 519.7L945.8 515.1L946.1 519.4L946.4 513.7L946.7 519.4L947 513.4L947.3 521.4L947.6 514.1L947.9 522.1L948.2 512.5L948.5 520.2L948.8 511.9L949.1 520.1L949.4 512.7L949.7 519.1L950 513.4L950.3 519L950.6 514.8L950.9 520.3L951.2 513.7L951.5 518.7L951.8 513.8L952.1 520.2L952.4 513L952.7 519.5L953 512L953.3 518.9L953.6 513.4L953.9 520.8L954.2 513.2L954.5 521.4L954.8 513.5L955.1 520.6L955.4 513.4L955.7 519.7L956 513.4L956.3 519.5L956.6 512.6L956.9 519.3L957.2 514.4L957.5 518.5L957.8 515.1L958.1 519L958.4 514.2L958.7 520.5L959 512L959.3 518.6L959.6 511.6L959.9 518.8L960.2 512.7L960.5 519.9L960.8 512.4L961.1 520.9L961.4 513.2L961.7 519.5L962 512.6L962.3 519.8L962.6 511.7L962.9 518.2L963.2 511.9L963.5 520L963.8 512.1L964.1 519.3L964.4 513.5L964.7 519L965 513L965.3 520L965.6 512.8L965.9 520.3L966.2 513L966.5 520.7L966.8 513.1L967.1 520.4L967.4 513.6L967.7 518.5L968 513.2L968.3 518.6L968.6 512.6L968.9 520L969.2 513L969.5 522.3L969.8 512.2L970.1 520.8L970.4 511.9L970.7 519.1L971 512.8L971.3 519L971.6 512.2L971.9 520.1L972.2 510.6L972.5 520.1L972.8 511.8L973.1 519.2L973.3 513L973.8 519.1L973.9 513.8L974.4 518.7L974.4 513.8L975.1 518.6L974.9 513L975.8 518.6L975.4 512.7L976.5 519.3L975.9 512.2L977 517.7L976.4 511.6L977.6 517.7L977.1 512.5L978.5 519.9L977.9 513.4L978.9 519.3L978.6 513.3L979.4 519.4L979.2 512.1L979.9 518.9L979.9 512.3L980.4 518.7L980.6 513.5L980.9 519L981.2 512.6L981.5 520L981.8 511.9L982.1 519L982.4 512.7L982.7 519.1L983 512.8L983.3 520.8L983.6 511.2L983.9 518.8L984.2 512.2L984.5 518.3L984.8 511.8L985.1 518.5L985.4 511.9L985.7 518.7L986 512.9L986.3 517.1L986.6 512.8L986.9 517.8L987.2 512.6L987.5 517L987.8 512.8L988.1 517.2L988.5 512.1L988.6 519.3L989.4 511.5L988.8 517.8L990.8 512.3L988.4 518.4L992.1 513.1L988.3 517.7L992.8 514.3L989.3 517.2L993.5 515.6L990 518L993.5 517.4L991.6 519.2L993.4 520L992.2 521.8L994.1 522.6L992.9 524.1L994.8 524.9L993.2 526.5L995 527.3L993.9 528.8L995.4 529.7L994.5 531.2L996.1 532L995 533.5L997 534.3L995.5 536L997.3 536.8L996 538.4L997.9 539.2L997.1 540.8L998.3 541.8L997.7 543.2L999.2 544.1L998 545.7L999.8 546.6L998.4 548.1L1000.7 548.8L999.4 550.4L1001 551.2L1000.3 552.6L1001.5 553.5L1000.5 555L1002.5 555.8L1001.3 557.4L1003.3 558.1L1002.1 559.7L1003.6 560.7L1002.3 562.3L1004.5 563.1L1002.7 564.8L1004.9 565.6L1003.5 567.2L1005.4 568L1003.9 569.7L1005.9 570.4L1004.9 571.8L1006.5 572.6L1005.6 574L1006.6 574.9L1005.9 576.2L1007.4 577L1006.2 578.5L1007.9 579.3L1006.9 580.9L1008.5 581.8L1007.4 583.5L1009.4 584.4L1008.4 586.1L1009.9 587.1L1009.1 588.7L1010.8 589.6L1009.8 591.1L1011.4 591.9L1010.1 593.4L1012.3 594L1010.8 595.5L1012.5 596.1L1011.5 597.5L1013.2 598L1012 599.5L1013.9 599.9L1012.8 601.3L1014.5 601.8L1013.2 603.2L1015.1 603.6L1013.8 605L1015.4 605.5L1014.4 606.8L1016.3 607.2L1015.1 608.6L1016.8 609.1L1015.5 610.6L1017.5 611L1016.3 612.4L1018.1 612.9L1016.7 614.4L1018.4 614.9L1017.4 616.3L1019 616.9L1017.5 618.4L1019.8 618.7L1018.1 620.3L1020.7 620.5L1019 622.2L1021 622.6L1019.5 624.1L1021.5 624.5L1020.1 626L1022.3 626.4L1021.2 627.8L1022.6 628.4L1021.7 629.8L1023.6 630.3L1022.2 631.8L1023.9 632.3L1022.8 633.7L1024.4 634.3L1023.2 635.7L1025.2 636.2L1023.9 637.7L1026 638.1L1024.7 639.6L1026.1 640.3L1025.2 641.7L1026.6 642.4L1025.5 643.8L1027.5 644.3L1026.2 645.8L1028.1 646.4L1027 647.9L1028.7 648.5L1027.7 649.9L1029.2 650.6L1028.3 652L1029.9 652.6L1028.9 654.1L1030.6 654.7L1029.4 656.1L1031.2 656.7L1029.9 658.2L1031.7 658.8L1030.6 660.2L1032.5 660.7L1031.2 662.2L1032.9 662.7L1031.9 664.1L1033.4 664.7L1032.5 666L1034.3 666.5L1033 667.9L1034.7 668.4L1033.8 669.7L1035.4 670.2L1034.5 671.5L1036.1 672L1034.8 673.5L1036.8 673.8L1035.5 675.3L1037.3 675.6L1036 677.1L1038 677.4L1036.6 678.9L1038.8 679.1L1037.5 680.6L1039 681L1038 682.3L1039.4 682.8L1038.3 684.2L1040.2 684.5L1039.4 685.7L1040.7 686.2L1039.9 687.5L1041.4 687.9L1040.3 689.2L1042 689.6L1040.9 690.9L1042.7 691.2L1041.4 692.7L1043.2 693L1042 694.3L1043.9 694.6L1042.5 696L1044.4 696.2L1043.1 697.6L1044.8 697.9L1044 699.2L1045.5 699.5L1044.7 700.7L1046.4 700.9L1045.6 702.1L1046.8 702.6L1045.8 703.9L1047.4 704.1L1046.1 705.5L1047.7 705.8L1046.8 707L1048.7 707.2L1047.8 708.4L1049.2 708.7L1048.4 709.9L1049.5 710.4L1048.9 711.5L1050 711.9L1049.3 713.1L1050.8 713.4L1049.9 714.7L1051.2 715.1L1050.5 716.2L1051.9 716.6L1051 717.8L1052.5 718.1L1051.7 719.4L1053 719.7L1052.1 721L1053.8 721.2L1052.5 722.6L1054.2 722.8L1053.6 723.9L1054.8 724.3L1053.9 725.6L1055.4 725.8L1054.6 727L1055.9 727.4L1055.1 728.6L1056.4 728.9L1055.6 730L1057.3 730.2L1056.3 731.5L1058.1 731.6L1056.9 732.9L1058.4 733.2L1057.5 734.4L1059.4 734.5L1058.1 735.9L1059.8 736L1058.9 737.2L1060.6 737.3L1059.4 738.6L1061.2 738.7L1059.9 740.1L1062 740L1060.8 741.3L1062.4 741.4L1061.5 742.6L1063.2 742.6L1061.9 744L1063.5 743.9L1062.4 745.3L1064.4 745L1063.2 746.3L1065 746.1L1063.7 747.5L1065.5 747.3L1064.2 748.7L1066 748.4L1064.5 750L1066.4 749.6L1065.6 750.8L1067 750.7L1066 752L1067.8 751.6L1066.1 753.3L1068.6 752.5L1066.9 754.2L1069.3 753.4L1067.6 755.1L1069.9 754.4L1067.5 756.6L1070.3 755.5L1067.6 757.8L1070.7 756.6L1068.8 758.4L1072.1 757L1069.3 759.5L1073 757.8L1070 760.4L1074 758.4L1069.7 761.9L1074.2 759.5L1069.8 763.2L1074.1 760.9L1071.6 763.3L1076 760.9L1070.9 765L1076.4 761.9L1071.9 765.6L1076.3 763.2L1072.5 766.5L1078.1 763.2L1072.1 768L1078.7 763.9L1071.2 770L1079.3 764.8L1072.6 770.2L1080.2 765.4L1073.8 770.6L1081.8 765.6L1074.9 771.1L1081.7 766.9L1076.2 771.4L1084.3 766.4L1074.7 773.7L1084.4 767.7L1076.5 773.8L1083.9 769.3L1079 773.4L1086 769.1L1080.4 773.7L1086.6 769.7L1080.1 775.3L1086.6 770.7L1079.5 777.2L1085.5 772.7L1081.1 777.1L1087 772.3L1082 777.5L1087.3 772.9L1080.9 779.9L1087.1 774L1082.6 779.5L1087.3 774.9L1083 780.4L1088.1 775L1084.3 780.2L1088.2 776L1084.1 782L1090.2 774.1L1085 782.5L1090.4 774.2L1086.1 782.7L1089.9 775.6L1087.3 782.4L1090.2 775L1088.3 782.7L1089.7 777.5L1089.1 784L1090 777.4L1090.1 782L1090.1 774.8L1091 783.1L1090.3 775.9L1092.2 784.5L1090.4 774.8L1092.8 783.1L1091.2 776.4L1093.3 782.1L1091 774.5L1094.2 782.4L1092.3 776.6L1094.8 781.8L1092.4 775.5L1095.4 781.3L1092.7 774.7L1095.8 780.6L1093.3 774.8L1097 781.2L1094.1 775L1097.7 781L1094.1 773.9L1097.9 779.7L1095.5 775.2L1099 779.8L1095.8 774.7L1100.5 780.4L1095.8 773.8L1101.5 780L1096 773.2L1101.7 778.6L1096.2 772.5L1102 777.4L1096.8 772.1L1103 776.8L1098.7 772.7L1104.4 776.5L1100.7 773L1104 774.8L1100.8 771.9L1105 774.2L1100.7 770.6L1104.2 772.3L1101.8 770.1L1104.9 771.4L1102.2 769.1L1106.6 771.1L1103.1 768.3L1106.7 769.7L1103.3 767.1L1106.3 768.1L1104.2 766.2L1106.6 766.7L1104.9 765.1L1107.6 765.7L1105.7 764L1107.8 764.2L1106.5 762.8L1108 762.7L1107.3 761.6L1108.4 761.3L1108 760.3L1109 759.9L1108.6 758.9L1109.6 758.5L1109.1 757.5L1110.2 757L1109.5 755.9L1110.9 755.5L1110.4 754.4L1111.6 753.9L1111.1 752.7L1112.1 752.2L1111.6 751L1112.7 750.4L1112.2 749.3L1113.3 748.6L1112.8 747.5L1114 746.9L1113.5 745.7L1114.6 745.1L1114.1 743.9L1115 743.2L1114.4 741.9L1115.8 741.3L1114.9 740L1116.5 739.4L1115.7 738.1L1117.1 737.4L1116.4 736.1L1117.5 735.3L1116.8 734L1118 733.3L1117.5 732L1118.6 731.3L1118 730L1119.2 729.2L1118.7 728L1120 727.2L1119.3 725.9L1120.5 725.1L1120.2 723.9L1121.2 723.1L1120.8 721.8L1121.7 721L1121.3 719.7L1122.5 718.9L1122 717.6L1122.9 716.8L1122.6 715.6L1123.5 714.8L1123.1 713.6L1124.3 712.9L1123.7 711.6L1124.8 710.8L1124.2 709.5L1125.4 708.7L1124.8 707.4L1125.8 706.4L1125.5 705L1126.6 704L1126.1 702.4L1127.2 701.2L1126.7 699.5L1127.6 698.1L1127.3 696.4L1128.3 694.9L1127.9 693.2L1129 691.8L1128.4 690.1L1129.4 688.7L1128.9 687.2L1130 685.9L1129.7 684.4L1130.9 683.2L1130.2 681.6L1131.4 680.4L1130.8 678.8L1131.9 677.6L1131.4 676.1L1132.6 675L1132.1 673.5L1133.3 672.4L1132.6 670.9L1133.7 669.9L1133.1 668.4L1134.3 667.4L1133.7 666L1135 665.1L1134.6 663.7L1135.5 662.8L1135.1 661.4L1136.1 660.4L1135.6 659.1L1136.7 658.1L1136.3 656.8L1137.2 655.8L1136.9 654.4L1137.8 653.4L1137.4 652L1138.4 651L1138 649.6L1139 648.6L1138.6 647.2L1139.6 646.1L1139.4 644.8L1140.4 643.8L1139.8 642.3L1140.8 641.3L1140.2 639.9L1141.4 638.9L1141 637.5L1142 636.4L1141.7 635L1142.8 633.9L1142.2 632.4L1143.1 631.3L1142.7 629.9L1143.8 628.8L1143.4 627.5L1144.4 626.5L1144.1 625.2L1145.1 624.3L1144.8 623.1L1145.5 622.2L1145.3 621.1L1146.1 620.3L1146 619.3L1146.7 618.5L1146.4 617.4L1147.4 616.8L1146.9 615.6L1148.1 615.1L1147.7 614L1148.6 613.4L1148.2 612.3L1149.2 611.8L1148.7 610.7L1149.9 610.2L1149.3 609.1L1150.4 608.6L1150.1 607.6L1151 607.1L1150.7 606.1L1151.8 605.7L1151 604.6L1152.3 604.3L1151.4 603.1L1152.8 602.8L1152 601.6L1153.6 601.5L1152.4 600.1L1154.5 600.1L1153.3 598.8L1154.9 598.7L1153.9 597.4L1155.3 597.2L1154.7 596.1L1155.9 595.8L1155 594.6L1157 594.5L1155.5 593.1L1157.8 593.2L1156.3 591.7L1158.4 591.8L1156.9 590.3L1159.1 590.3L1157.2 588.7L1159.6 588.7L1158.3 587.3L1160 587.1L1158.6 585.6L1160.5 585.4L1158.8 583.9L1161.2 584L1159.7 582.5L1161.9 582.5L1160.3 581L1163.5 581.5L1161.1 579.6L1163.4 579.9L1161.8 578.4L1163.9 578.5L1161.8 576.8L1165.7 577.8L1162.3 575.4L1165.7 576.3L1163 574.2L1166.1 575L1162.9 572.7L1167.6 574.3L1163 571.2L1167.9 573.1L1163.6 570L1168.2 571.9L1164 568.8L1169.4 571.3L1165 567.9L1171 571.2L1165 566.6L1171.3 570.2L1166.1 565.9L1172.2 569.7L1167.9 565.9L1172.4 568.7L1168.3 565L1173.1 568.1L1167 562.6L1174.3 568L1166.6 561L1172.8 565.6L1167.6 560.5L1174.5 565.8L1167.9 559.5L1175.3 565.4L1169.3 559.6L1176.6 565.4L1170.9 559.7L1176.2 563.9L1171.8 559.3L1177.3 563.7L1171.8 558L1177.6 562.7L1172.3 557.2L1177.4 561.4L1171.2 555L1179.5 562.2L1173.5 555.9L1181.6 563L1173.4 554.6L1179.8 560.2L1173.6 553.5L1180.6 559.8L1176.1 554.7L1182.6 560.7L1176.6 553.9L1183 560L1177.2 553.4L1182.9 558.8L1176.6 551.5L1183.3 558L1177.6 551.4L1183.1 556.7L1179.3 551.9L1184.5 557L1179.6 551.1L1185.1 556.6L1179.9 550.2L1185.8 556.1L1179.9 548.9L1185.5 554.7L1181.3 549.3L1186.9 555.1L1182.7 549.6L1186.3 553.2L1183.9 549.8L1186.5 552.4L1182.9 547.3L1188 553L1183.3 546.5L1189.9 554.2L1184.5 546.6L1189.7 553L1184.6 545.4L1190.3 552.7L1185.1 544.6L1189.8 550.9L1184.4 542.1L1190.2 550.4L1186.2 543.4L1190.9 550.3L1187 543.1L1191.5 550L1187.6 542.7L1192 549.8L1187.2 540.3L1192.8 549.8L1188.9 541.8L1193.5 549.8L1189.3 540.9L1193.1 547.8L1190.8 542.3L1194.6 549.4L1190.3 539.6L1195.8 550.3L1191.9 541.4L1195.6 548.5L1192.8 541.6L1196.4 548.7L1194 542.7L1196.2 546.9L1194.1 541.3L1196.8 546.5L1194.4 540.1L1197.2 545.8L1194.9 539.6L1198 546.1L1195.7 539.9L1199.1 547.1L1196.5 539.9L1199.3 545.9L1196.7 538.8L1199.6 544.9L1196.3 536.2L1200.3 545L1197.4 537.1L1201 545L1198 536.8L1202.1 545.9L1198.3 535.7L1203.8 548.6L1199.9 538L1203.7 546.5L1200.7 538.1L1203.8 545.2L1201.2 537.6L1204.6 545.4L1201.6 536.6L1204.9 544.6L1201.8 535.5L1204.8 542.4L1202.5 535.3L1205.9 543.7L1203.8 536.8L1207.1 545.3L1204.6 537.1L1207.2 543.9L1204.9 536L1208.1 544.6L1205.7 536.4L1208.6 544.4L1206.2 535.7L1208.9 543.4L1207.5 537.7L1209.1 541.8L1207.7 536L1210 542.8L1207.5 532.9L1210.9 544L1208.6 534.3L1211.7 544.7L1209.3 534.5L1211.8 543.1L1209.7 533.1L1212.4 542.9L1210.4 533.5L1213.2 543.9L1211.2 534.2L1213.6 543L1211.4 532L1214.1 542.4L1212 531.9L1215.2 544.7L1212.7 531.8L1214.9 540.5L1213.8 534.2L1215.4 539.7L1214.1 532.2L1216.1 540.4L1214.6 531.6L1217 541.5L1215.5 533.1L1217.6 541.4L1216 532.3L1217.7 539.3L1216.8 533.2L1218.4 539.3L1217.7 534.5L1219 539.6L1218.4 534.6L1219.8 540.2L1218.5 531.9L1220.6 541.2L1219.2 532.6L1221.1 540.8L1220.4 535.1L1221.7 540.7L1220.9 534.9L1222.6 541.8L1221.1 532.6L1223 540.7L1221.8 532.7L1223.8 541.8L1222.4 532.9L1224.3 541.1L1223 533L1224.9 541.1L1223.7 533L1225.1 538.9L1224.3 533.3L1225.9 539.9L1224.5 531.2L1226.7 540.3L1225 530.6L1226.8 538L1225.6 530.5L1227.3 537.2L1226.5 531.7L1228 537.5L1227.2 532.4L1228.8 538.4L1227.7 531.8L1229.5 538.8L1227.9 529.6L1230 537.7L1228.7 530.8L1230.6 537.5L1229.1 529.6L1231.6 539.5L1229.9 530.4L1232.1 538.6L1230 528.3L1232.2 536.5L1230.6 528.1L1233.1 537.6L1231.1 527.4L1233.9 538L1231.9 528.3L1234.3 537.3L1232.8 529.4L1234.6 535.9L1233.6 530.1L1235.3 536.3L1234.3 530.5L1235.9 535.9L1234.9 530.3L1236.5 536.1L1235.7 530.9L1237.4 537.1L1236.1 530L1238 536.9L1236.6 529.1L1238.1 534.8L1237.2 528.7L1239.3 537.4L1237.6 527.8L1239.9 537.8L1238.2 527.2L1240.1 535.3L1239.4 530L1240.7 535.6L1240 529.9L1241.2 535.3L1240.5 528.9L1242 536.4L1241.1 528.6L1242.5 536.2L1241.4 526.2L1243.1 536L1242.4 529.1L1243.7 536.6L1243 528.1L1244 534.9L1243.5 526.2L1244.7 535.7L1244.1 526.3L1245.2 534.9L1244.9 527.9L1245.8 535.2L1245.5 528.1L1246.4 535.5L1246.2 528.6L1247 535.4L1246.9 529.7L1247.8 537.8L1247.3 528.3L1248.4 536.9L1247.8 527.7L1249 536.3L1248.3 526.7L1249.6 535.4L1248.8 526.4L1250.4 536.5L1249.2 525.8L1250.9 535L1249.9 527.2L1251.6 534.8L1250.3 526.8L1253.2 537L1251 528.9L1254.5 535.1L1251.3 529.3L1256.7 535L1248.8 527.1L1257.7 533.3L1251.6 528.8L1257.2 531L1253 528.2L1257.2 529.1L1252.8 526.2L1258.6 527L1254 524.2L1257.7 524.3L1254.4 522.2L1257.3 522L1255.2 520.3L1258.2 520.2L1255.8 518.3L1259.1 518.5L1256.5 516.6L1259.4 516.8L1257.2 515L1260.7 515.7L1257.9 513.7L1260.5 514.1L1257.9 512.1L1261.1 512.9L1258.8 511.1L1261.6 511.7L1258.9 509.7L1262.6 510.8L1259.3 508.5L1263.8 509.8L1260.8 507.7L1265 508.7L1260.5 506L1264.8 506.8L1261.8 504.7L1265.4 505.2L1261.8 502.9L1265.1 503.1L1262.5 501.2L1266.2 501.5L1263.3 499.4L1266.9 499.7L1264.2 497.8L1267.9 498.1L1264.9 496.1L1268.5 496.4L1265 494.2L1268.4 494.6L1265.1 492.4L1268.8 493.2L1265.9 491.2L1269.7 492.1L1267.1 490.1L1270.6 491.2L1267.5 488.8L1271 489.9L1267.8 487.5L1271.2 488.6L1269.1 486.8L1272.8 488.2L1268.7 485.1L1272.8 486.9L1269.5 484.1L1273.7 486.2L1271 483.7L1274.5 485.6L1271.6 482.8L1275.2 484.9L1272.3 482L1276.5 484.9L1272.2 480.7L1276.2 483.6L1273.4 480.4L1276 482.4L1273.9 479.7L1276.7 482L1274.1 478.6L1277 481.3L1274.9 478.2L1278.2 481.6L1275.2 477.3L1278.5 480.8L1276.5 477.6L1279 480.3L1276.7 476.5L1280.1 480.5L1277 475.5L1280.3 479.7L1278.1 475.7L1280.9 479.4L1279 475.7L1281.7 479.4L1279.6 475.4L1283.2 480.7L1279.9 474.3L1282.7 478.5L1281 474.9L1283.1 477.9L1281.8 474.8L1284.2 478.6L1281.4 472.6L1284.1 477L1281.6 471.5L1285.5 478.3L1282.8 472.2L1286.3 478.5L1283.8 472.8L1286.4 477.2L1284.4 472.4L1286.6 476.1L1285 472L1287.2 475.8L1285.8 472.1L1287.9 475.9L1286.4 471.8L1289.4 477.7L1286.8 471.1L1289.6 476.8L1286.9 469.5L1290.2 476.4L1287.6 469.5L1290.8 476.3L1288.2 469L1291.5 476.4L1288.8 468.7L1291.5 474.9L1289.8 469.4L1292.2 474.9L1290.5 469.5L1292.9 474.9L1290.4 467.1L1293.9 476.1L1291.1 467.1L1294.1 474.8L1292 467.6L1295.1 475.8L1292.8 467.8L1295.2 474.2L1293.2 467.1L1295.1 471.9L1293.9 467.1L1295.6 471.6L1294.8 467.7L1296.8 473.6L1295.3 467L1297.3 473.3L1296.1 467.3L1297.7 472.4L1296.6 466.7L1298.2 471.8L1297.1 466.1L1298.5 470.5L1297.9 466.6L1299.3 471.5L1298.4 466.2L1300 471.6L1299.2 466.6L1300.8 472.7L1299.8 466.4L1301.2 471.4L1300.4 466.1L1301.8 471.7L1300.9 465.7L1302.3 470.9L1301.7 466.5L1302.8 470.6L1302.5 467.1L1303.7 471.6L1302.8 465.7L1304.2 471.1L1303.5 466.1L1304.7 470.5L1304 465.2L1305.4 471.3L1304.8 465.8L1306.2 472.1L1305.4 465.9L1306.5 470.8L1306.1 466.1L1307.3 471.8L1306.5 464.9L1307.7 470.6L1306.8 463.1L1308.2 469.7L1307.6 463.9L1308.9 470.1L1308.5 465.5L1309.5 470.2L1308.9 464.5L1310 469.6L1309.5 464.5L1310.7 469.9L1310 463.5L1311.3 469.9L1310.7 463.6L1311.9 470.2L1311.3 463.9L1312.5 470L1312.1 464.7L1313.2 470.9L1312.7 464.9L1313.8 471L1313.3 464.9L1314.3 470.2L1313.8 464L1314.9 470.2L1314.4 463.8L1315.4 469.1L1315.2 464.8L1316.1 469.7L1315.7 464.4L1316.7 469.9L1316.1 462.7L1317.2 469L1316.8 463.4L1318 470.8L1317.3 462.7L1318.4 468.9L1318 462.8L1319 468.6L1318.6 462.7L1319.7 469.7L1319.2 463.2L1320.3 469.6L1320 464.3L1320.9 469.9L1320.5 463.2L1321.5 469.4L1321.2 464.3L1322 468.5L1321.7 463.7L1322.7 469.6L1322.3 462.8L1323.2 468.7L1322.9 462.8L1323.9 470L1323.5 462.8L1324.4 468.7L1324.1 462.7L1325.1 469.5L1324.6 462.1L1325.8 470.5L1325.4 463.6L1326.2 468.8L1325.9 462.6L1326.9 469.6L1326.6 463.4L1327.6 470.4L1327.2 463.1L1328 468.6L1327.7 462.3L1328.6 468.8L1328.3 462.5L1329.3 469.2L1328.9 462L1329.8 468.5L1329.5 462.6L1330.3 467.7L1330.1 461.7L1331.1 469.4L1330.7 462.3L1331.7 468.8L1331.4 462.5L1332.3 469.5L1331.8 461L1332.7 467.1L1332.6 461.9L1333.2 466.3L1333.1 460.9L1333.8 466.6L1333.8 461.5L1334.4 467.6"/>
</g>
<!-- experimental -->
<g fill="none" stroke="#000" stroke-width="4.4" stroke-linejoin="round" clip-path="url(#plot)">
<path d="M212.4 462.2L212.7 462.2L213 462.2L213.3 462.2L213.6 462.3L213.9 462.3L214.2 462.3L214.5 462.3L214.8 462.3L215.1 462.3L215.4 462.3L215.7 462.2L216 462.2L216.3 462.2L216.6 462.2L216.9 462.2L217.2 462.2L217.5 462.2L217.8 462.2L218.1 462.2L218.4 462.2L218.7 462.2L219 462.1L219.3 462.1L219.6 462.1L219.9 462L220.2 462L220.4 462L220.7 462L221 462.1L221.3 462.1L221.6 462.2L222 462L222.4 461.3L222.5 460.2L223.1 459.2L223.1 457.5L224 455.8L223.7 453.5L224.6 451.5L224 449.4L225.2 448L224.4 446.4L225.8 445.2L224.7 443.6L226.2 442.6"/>
<path d="M225.2 441.1L227.2 440.4L226.1 438.9L228.1 438.3L226.8 436.8L228.7 436.4L226.9 434.8L229.4 434.5L228 433.1L229.5 432.6L228.5 431.3L230.3 431L229 429.6L231.4 429.7L229.7 428.2L231.8 428.2L230.1 426.6L231.7 426.5L230.4 425.2L232.8 425.5L231.5 424.1L233.5 424.3L231.6 422.6L234.1 423.1L232 421.3L234.7 422L233 420.4L235.3 420.9L233.2 419L236 420L233.9 418L236.8 419.2L234.9 417.3L237 418.1L235.3 416.3L237.8 417.5L235.7 415.4L238.3 416.7L236.8 414.9L238.2 415.5L237.7 414.4L239.1 415L237.6 413.1L240.7 415.3L238.1 412.2L240.7 414.2L239 411.8L241.4 413.7L239.4 411L242.1 413.3L240.8 411.3L242 412L241.1 410.3L242.5 411.4L241.2 409.1L244.1 412.4L242.2 409.2L244.5 411.9L242.9 408.9L245 411.6L243.8 409L245.7 411.5L244.4 408.6L245.4 409.7L245 408.2L246.1 409.6L245.4 407.4L247.1 410.3L246 407.1L247.7 410.1L246.5 406.6L248.1 409.3L247.3 406.8L248.7 409.1L248.1 406.8L248.8 407.8L248.8 406.9L249.6 408L249.2 406.1L250.5 408.6L249.7 405.7L251.2 409L250.1 404.6L252 409.2L250.7 404.4L252.3 408.2L251.6 405.2L252.5 406.9L252.4 405.4L253.2 406.9L252.7 404.3L254.2 408.1L253.4 404.5L254.7 407.5L254 404.2L255.4 407.8L254.4 403.5L255.9 407.3L255.3 404L256.3 406.5L256 404.4L256.8 406L256.4 403.6L257.8 407.3L257.1 403.5L258.4 407.3L257.7 403.5L259 407.2L258.2 402.8L259.6 407.3L258.9 402.9L259.8 405.3L259.4 402.5L260.3 404.8L259.8 401.4L261.1 405.6L260.7 402.3L261.5 404.9L261.1 401.2L262.1 404.8L261.9 402.1L262.8 405.3L262.6 402.5L263.3 404.3L263.2 402.3L263.9 404.4L263.6 401L264.5 404.4L264.3 401.5L265.1 404.6L265 401.6L265.7 404.4L265.4 400.3L266.4 404.6L266.2 401.8L266.9 404L266.9 401.9L267.5 404L267.3 400.7L268.3 405.3L267.9 400.6L268.8 404.5L268.5 400L269.3 404.1L269 399.6L269.9 404.2L269.8 401.2L270.4 402.9L270.4 400.9L271.1 403.6L270.8 399.3L271.7 403.8L271.6 400.7L272.3 404.1L272.1 400L272.9 403.6L272.8 400L273.5 403.8L273.5 401.1L274 402.8L274.1 401.2L274.6 402.9L274.6 399.6L275.5 405.4L275.3 400.4L275.9 403.8L275.9 400.3L276.5 403.6L276.4 399.9L277.2 404L277.1 400.3L277.6 402.3L277.7 400.2L278.2 401.9L278.1 398.5L278.9 403.1L278.8 399.6L279.5 403.7L279.3 398.5L280.1 402.9L280.1 400L280.7 403.2L280.7 400.4L281.2 401.7L281.2 399.4L281.8 401.9L281.9 399.5L282.4 402.2L282.5 399.7L283.1 403.5L283 398.7L283.8 403.8L283.6 398.6L284.4 403.9L284.2 398.9L284.8 402.4L284.8 399L285.4 402.1L285.4 398.6L286 402.2L286 398.6L286.7 402.5L286.7 399L287.3 403.4L287.2 398.3L288 404.2L287.9 398.9L288.4 401.1L288.5 399.3L288.9 401L289 398.4L289.7 402.4L289.6 397.6L290.2 402.1L290.2 397.5L290.9 402.3L290.8 397.8L291.4 402L291.5 398.9L292 401.2L292.1 398.8L292.6 401.2L292.6 397.7L293.3 402.4L293.3 398.6L293.8 401.5L293.9 399L294.4 402L294.5 398.6L295 401.7L295.1 398.4L295.6 401.1L295.7 398.5L296.2 400.9L296.2 396.9L296.8 401.8L296.9 397.8L297.5 402L297.5 397.8L298.1 402.4L298.1 398.5L298.6 401.8L298.7 398.7L299.2 400.5L299.3 398.2L299.8 400.6L299.9 398L300.4 401.8L300.5 397.8L301 401.2L301.1 397.6L301.6 400.5L301.7 397.8L302.2 401.1L302.3 398L302.8 400.7L302.9 398.5L303.4 400.5L303.5 398L304 401.1L304.1 397.8L304.6 401.6L304.7 397.4L305.2 401.9L305.3 397.7L305.8 401.8L305.9 398.1L306.3 399.9L306.6 398.6L306.9 400L307.1 397.6L307.6 401.2L307.7 397.3L308.2 401.8L308.3 397.1L308.8 401.2L308.9 397.7L309.4 400.4L309.6 398.1L309.9 399.7L310.1 397.8L310.6 400L310.7 396.6L311.2 400.7L311.4 398L311.8 401L312 398L312.4 400.4L312.6 398L313 400.1L313.2 397.9L313.5 399.8L313.8 397.9L314.1 399.5L314.3 396.1L314.8 400.8L314.9 397.3L315.4 401.2L315.6 397.9L316 400.3L316.1 396.8L316.6 400.2L316.7 397.5L317.1 399.3L317.3 397.4L317.7 399.4L317.9 395.9L318.4 401.1L318.6 397.6L319 400.5L319.1 396.5L319.5 399.6L319.7 396.9L320.2 400.2L320.4 397.8L320.7 399.2L320.9 397.4L321.4 399.8L321.5 396.5L322 401.2L322.1 396.1L322.6 400.7L322.7 395.6L323.2 400.3L323.3 396.2L323.8 401.2L323.9 396.7L324.4 399.6L324.5 397.1L324.9 399.3L325.1 396.4L325.6 399.5L325.7 395.8L326.2 400.7L326.3 395.4L326.8 400.2L326.9 395.6L327.4 400L327.6 397.3L327.9 399.3L328.2 397L328.6 399.6L328.7 396.8L329.2 400.1L329.3 395.8L329.8 400.2L329.9 396.2L330.4 401L330.5 396.6L331 400.8L331.2 397.4L331.6 399.7L331.8 397.2L332.2 399.4L332.3 396.4L332.8 400.3L333 397L333.4 399.7L333.5 396.4L334 399.9L334.1 396.6L334.6 400.9L334.7 396.5L335.2 399.2L335.3 396.3L335.8 399.3L335.9 396.6L336.4 400L336.5 396.7L337 398.9L337.1 396L337.6 399.3L337.7 395.8L338.2 399.9L338.4 396.7L338.8 399L338.9 396.6L339.4 398.8L339.5 395.9L340 399.2L340.1 395L340.7 400.4L340.7 396.2L341.3 400.5L341.3 396.4L341.8 399.1L341.9 396.5L342.4 398.7L342.5 396.3L343 398.5L343.1 396.2L343.7 400.3L343.7 395.7L344.3 400.3L344.3 395.9L344.9 400.2L344.8 395.2L345.5 399.5L345.5 396.6L346 398.1L346.1 396L346.6 397.9L346.6 394.5L347.2 398.8L347.2 395.1L347.9 399.1L347.8 395.2L348.5 399.1L348.4 394.4L349 398.4L349.1 395.6L349.6 397.9L349.7 396.1L350.2 398.2L350.2 394.9L350.9 399.1L350.9 395.7L351.4 398.2L351.4 394.8L352 397.8L352 394.3L352.6 398.1L352.7 395L353.2 397.8L353.3 394.7L353.8 397.7L353.8 393.8L354.4 397.9L354.4 393.9L355 398.5L355.1 395.3L355.6 397.8L355.7 394.6L356.2 397.4L356.4 395.8L356.8 397.8L357 395.9L357.4 397.5L357.5 394.4L358 398.3L358.1 395L358.6 398L358.7 394.7L359.2 398L359.3 393.8L359.8 398.1L359.9 394.9L360.3 397.1L360.6 395.1L360.9 396.8L361.1 394.8L361.6 398.2L361.7 393.8L362.2 398.6L362.3 394.3L362.8 398.4L362.9 394.4L363.4 397.4L363.5 394.7L363.9 396.8L364.1 394.6L364.5 396.9L364.7 394.3L365.2 398.3L365.3 394.7L365.8 398.2L365.9 394.2L366.4 398L366.5 393.7L367 397.5L367.2 394.7L367.5 396.9L367.7 394.6L368.1 396.9L368.3 393.6L368.8 397.4L368.9 394.2L369.4 397.5L369.5 394.3L370 398.3L370.1 394.3L370.6 397.9L370.8 395.3L371.1 396.9L371.4 394.8L371.7 396.5L371.9 393.8L372.4 397.5L372.5 393.1L373 397.3L373.1 393.5L373.5 396.6L373.7 394.5L374.2 397L374.4 395L374.8 397.1L375 395.1L375.4 397.2L375.5 394.5L376 398.6L376.1 394.4L376.6 397.3L376.7 394L377.2 398.1L377.4 394.8L377.8 397.2L378 394.8L378.3 396.3L378.6 394.9L379 396.9L379.1 393.8L379.6 398.1L379.7 392.6L380.2 397.6L380.3 393L380.9 398.6L380.9 393.4L381.4 397.1L381.5 393.9L381.9 396L382.1 393.9L382.5 395.9L382.7 393.5L383.1 396.2L383.3 393.2L383.7 395.7L383.9 392.8L384.3 396L384.5 392.8L385 396.7L385.1 393.5L385.5 396L385.7 393.7L386.1 395.6L386.3 392.5L386.8 397.9L386.9 393.3L387.4 397.8L387.5 393L388 396.4L388.1 392.2L388.6 396.6L388.7 394L389.2 396.1L389.4 394L389.8 396.4L389.9 393.2L390.4 397.1L390.5 393L391 396.9L391.1 392.9L391.6 397.1L391.7 392.4L392.3 397.4L392.3 393.3L392.8 395.8L392.9 393.8L393.3 395.4L393.4 391.9L394 396.4L394 391.6L394.7 397.1L394.6 392.1L395.1 395.3L395.2 391.4L395.8 395.6L395.9 393.2L396.3 395.2L396.5 393.4L397 395.9L397 392L397.7 397.2L397.6 391.6L398.3 397.4L398.3 392.7L398.8 396L398.9 392.6L399.4 396.1L399.5 392.8L400 395L400.1 393.5L400.5 394.7L400.7 392.6L401.2 395.3L401.2 392.3L401.9 396.4L401.9 392.5L402.5 396L402.4 392.3L403 395.5L403.1 392.7L403.6 394.7L403.7 392.8L404.2 394.7L404.1 391L404.9 395.6L404.8 391.7L405.6 396.3L405.4 391.2L406 394.9L406 391.8L406.7 396L406.7 392.8L407.2 394.6L407.3 392.3L407.8 394L407.7 390.9L408.4 394.7L408.3 390.6L409.2 395.6L409 391.4L409.6 394.6L409.6 391.7L410.3 394.8L410.3 392.6L410.8 393.7L410.9 392.5L411.4 394.2L411.4 391.2L412.1 394.8L412 391.4L412.8 395.3L412.5 390.5L413.3 394.8L413.1 390.3L413.9 394.8L413.8 391.5L414.4 393.7L414.4 391.5L415 393.7L415 390.9L415.7 393.8L415.6 390.8L416.2 393.5L416.2 390.7L416.9 393.8L416.7 390.1L417.6 394.3L417.4 391L418 393.3L418.1 391.1L418.7 393.4L418.6 390.4L419.4 394.5L419.2 390.3L419.9 393.5L419.7 390.1L420.4 392.7L420.4 390.4L421.1 393.4L421 390.5L421.6 392.5L421.6 390.4L422.2 392.3L422 389.1L422.8 392.7L422.7 389.4L423.6 394L423.3 389.5L424.2 393.8L424 390.1L424.7 393L424.7 390.5L425.3 392.5L425.3 390.3L425.9 392.3L425.6 388.7L426.7 394L426.4 389.5L427.3 394L427 389.4L427.8 393.1L427.5 388.7L428.4 392.8L428.2 389.5L428.8 391.5L428.8 389.7L429.5 391.8L429.3 388.7L430.1 392.1L429.9 388.4L430.8 392.3L430.5 388.4L431.4 392L431.1 388.5L432.1 392.8L431.9 389.4L432.5 391.2L432.4 389L433.1 391.3L433 388.9L433.9 392.4L433.4 387.6L434.5 392.2L434 387.4L435.1 392L434.7 388.1L435.6 391.6L435.5 388.9L436.1 390.6L436 388.5L436.7 390.5L436.3 386.7L437.5 391.6L437 387.3L438.1 391.2L437.7 387.6L438.5 390.2L438.4 388.2L439.1 390.3L439.1 388.3L439.7 390.2L439.6 387.8L440.3 390L440 386.6L441.1 390.6L440.7 387L441.8 391.1L441.4 387.7L442.4 391.1L442 387.1L443 391L442.6 387.2L443.4 389.6L443.2 387.2L443.9 388.9L443.7 386.6L444.5 389L444.4 386.8L445.3 389.7L444.8 385.8L445.9 389.9L445.4 385.7L446.5 389.4L446.1 386.2L446.9 388.3L446.6 385.4L447.5 388.2L447.1 384.9L448.4 389.6L447.9 385.6L448.8 388.5L448.3 384.9L449.5 388.9L448.8 384.3L450.2 389.3L449.6 385.2L450.5 387.6L450.3 385.3L451.1 387.4L450.8 384.9L451.9 388.1L451.3 384.2L452.4 387.6L452.1 384.8L453 387.5L452.6 384.2L453.6 387.2L453.3 384.9L454 386.4L454.1 385.2L454.7 386.3L454.4 383.9L455.6 387.5L454.8 383.2L456.2 387.4L455.5 383.5L456.9 387.9L456.1 383.1L457.3 386.9L456.8 383.5L457.7 385.8L457.3 383L458.3 385.5L457.7 382L458.9 385.5L458.4 382.3L459.7 386.2L459 382.3L460.4 386.4L459.6 382L460.9 385.6L460.5 383.1L461.4 385.2L461.1 382.7L462 384.9L461.6 382.2L462.9 385.8L462.1 382L463.6 386.1L462.7 381.5L463.9 384.9L463 380.4L464.5 384.5L464 381.6L465 384L464.6 381.6L465.6 384.1L465 380.8L466.5 384.9L465.7 380.8L467.1 384.6L466.5 381.2L467.8 384.7L467 380.9L468.3 384.2L467.8 381.4L468.6 382.9L468.4 381.1L469.1 382.7L468.4 378.9L469.8 382.7L469.4 380.1L470.5 382.8L469.9 379.7L471.1 382.6L470.4 379.1L471.7 382.3L471.2 379.9L472.2 381.9L471.9 379.9L472.8 381.6L472.3 379L473.8 382.9L472.9 378.7L474.2 382L473.3 378.1L475 382.5L474.1 378.5L475.8 383L475.1 379.6L476 381.4L475.5 378.7L476.5 380.7L475.8 377.7L477.3 381.2L476.5 377.8L477.9 381.1L477.1 377.5L478.6 381L477.6 377.1L479.1 380.7L478.4 377.5L479.5 379.7L479.1 377.7L480.1 379.6L479.1 375.8L481.1 380.6L480 376.3L481.6 379.9L480.5 375.8L482.1 379.4L481.1 375.9L482.8 379.6L482 376.4L483.2 378.6L482.6 376.2L483.7 378.1L482.8 374.9L484.6 378.7L483.3 374.3L485.2 378.6L483.9 374.2L486 378.7L484.6 374.2L486.6 378.4L485.7 375.4L486.8 377.2L486.3 375L487.3 376.9L486.6 374.1L488.3 377.6L486.8 372.9L488.9 377.3L487.6 373.1L489.5 377L488.3 373.2L490.2 377.1L489.4 374.1L490.3 375.6L489.9 373.7L491 375.4L490.1 372.5L491.8 375.7L490.1 371L492.7 376.1L491.3 372L493.2 375.6L492.1 372.3L493.7 375L492.7 372.1L493.8 373.7L493.4 372L494.4 373.3L493.6 370.9L495.7 374.4L494.2 370.7L496.3 374L494.7 370.3L497.1 374L495.1 369.7L497.3 372.9L496.2 370.3L497.7 372.2L496.9 370L498.2 371.6L496.9 368.8L499.3 372.1L497.7 368.7L499.7 371.4L497.9 367.9L500.2 370.8L499 368.3L501 370.6L500.3 368.9L501.7 370.3L500.5 367.9L502.3 369.9L500.6 366.8L503.1 369.7L501.1 366.3L503.2 368.5L502.1 366.5L503.7 367.9L502.2 365.3L504.9 368.2L503.4 365.7L505 367L503.9 365.1L505.6 366.6L503.9 363.8L506.4 366.3L504.5 363.4L506.7 365.6L505.4 363.3L507.4 365.1L506 362.8L508.5 365.3L507.1 362.9L508.4 364L507.5 362.2L509 363.5L507.4 360.8L510.1 363.5L508.7 361.3L510.9 363.4L509.1 360.5L511.8 363.2L509.2 359.4L511.8 361.9L510.6 359.9L512 361L511.4 359.6L512.6 360.5L510.9 357.9L513.7 360.6L512 357.9L515 360.9L512.9 357.7L515 359.7L513.7 357.5L515.6 359.1L514.5 357.2L515.5 357.8L514.8 356.4L516 357.2L514.6 355L516.8 356.8L515.5 354.8L518.1 357.1L516.2 354.3L519.1 357L517.4 354.5L519.2 355.9L518.2 354.1L519.3 354.8L518.5 353.3L519.8 354L518.9 352.5L520.6 353.7L519.2 351.7L521.4 353.4L520.1 351.4L521.7 352.5L520.8 350.9L522.6 352.1L521.4 350.3L523 351.4L522 349.8L523.7 350.8L522.5 349.1L524.8 350.7L522.9 348.2L524.7 349.4L522.8 347L525.4 348.8L523.8 346.7L526.3 348.4L523.9 345.7L526.8 347.7L525.2 345.7L527.3 346.9L525.9 345.1L528.1 346.4L526.2 344.2L528.3 345.3L526.8 343.5L528.8 344.5L527.8 343.1L529.4 343.8L528.5 342.4L529.9 342.9L529.2 341.8L530.9 342.5L529.8 341L531.7 341.9L530.3 340.1L532.1 341L531.1 339.6L532.8 340.3L531.3 338.5L533.4 339.5L532.2 337.9L534.2 338.8L532.7 337.1L534.6 337.9L533.1 336.1L535 336.9L533.3 335L535.6 336.1L534.4 334.6L536.2 335.2L535.1 333.9L536.5 334.2L535.6 333L537 333.3L536.3 332.1L537.6 332.4L536.9 331.3L538.5 331.7" stroke-dasharray="14 5"/>
<path d="M537.7 330.6L539 330.8L538.5 329.8L539.4 329.8L539.2 329L540 328.9L539.7 328L540.3 327.9L540.2 327.1L540.9 326.9L540.8 326.2L541.4 326L541.6 325.5L541.9 325L542.3 324.6L542.6 324.2L542.9 323.8L543.3 323.3L543.6 322.9L543.9 322.4L544.3 322L544.6 321.5L544.9 321.1L545.2 320.6L545.6 320.2L545.9 319.7L546.2 319.3L546.5 318.8L546.8 318.3L547.2 317.9L547.5 317.4L547.9 317L548.2 316.6L548.6 316.1L548.9 315.7L549.2 315.2L549.4 314.7L549.7 314.2L549.9 313.7L550.1 313.1L550.3 312.6L550.4 312L550.6 311.4L550.7 310.9L551 310.4L551.3 310L551.7 309.6L552.1 309.2L552.5 308.8L552.8 308.4L553.1 307.9L553.3 307.4L553.6 307L553.9 306.5L554.2 306.1L554.6 305.7L555 305.3L555.4 304.9L555.7 304.5L555.9 304L556.2 303.5L556.4 303L556.8 302.6L557.2 302.2L557.6 301.8L558.1 301.5L558.5 301.1L558.9 300.6L559 300.1L559.1 299.5L559.3 298.9L559.4 298.3L559.5 297.7L559.7 297.1L559.9 296.5L560.2 296L560.6 295.6L561.1 295.2L561.6 294.7L562 294.3L562.4 293.8L562.7 293.3L563 292.7L563.3 292.2L563.6 291.7L564 291.2L564.5 290.8L564.9 290.4L565.3 289.9L565.6 289.4L565.8 288.9L566 288.3L566.2 287.7L566.4 287.2L566.6 286.6L566.8 286.1L567 285.5L567.2 285L567.5 284.5L567.8 284L568.2 283.6L568.8 283.3L569.3 282.9L569.8 282.6L570.2 282.2L570.5 281.7L570.7 281.1L570.9 280.6L571.1 280L571.3 279.5L571.6 279L571.9 278.5L572.2 278L572.4 277.5L572.6 276.9L572.8 276.4L573 275.8L573.4 275.3L573.7 274.9L574 274.4L574.3 273.8L574.6 273.3L574.8 272.8L575.1 272.2L575.4 271.7L575.7 271.2L576.1 270.8L576.5 270.3L577 269.9L577.4 269.5L577.8 269L578.1 268.5L578.4 268L578.6 267.4L578.8 266.8L578.9 266.2L579.1 265.6L579.3 265L579.6 264.5L579.8 263.9L580.1 263.3L580.3 262.7L580.5 262.2L580.8 261.6L581.2 261.1L581.8 260.7L582.4 260.4L583 260L583.4 259.5L583.7 259L583.9 258.4L584 257.7L584.2 257.1L584.3 256.4L584.5 255.8L584.7 255.2L585 254.6L585.3 254L585.6 253.5L585.9 252.9L586.3 252.4L586.7 251.9L586.9 251.3L587.2 250.6L587.4 250L587.6 249.4L587.9 248.8L588.2 248.1L588.4 247.5L588.6 246.8L588.8 246.1L589 245.5L589.4 244.9L589.9 244.4L590.5 243.9L591.1 243.3L591.6 242.7L591.9 242.1L592.1 241.4L592.3 240.7L592.6 240L592.8 239.3L593.1 238.6L593.5 237.9L593.7 237.2L593.9 236.5L594.1 235.8L594.2 235L594.4 234.3L594.6 233.6L594.9 232.9L595.3 232.2L595.7 231.6L596 230.9L596.3 230.2L596.6 229.5L596.9 228.9L597.3 228.2L597.7 227.6L598.1 227L598.5 226.4L598.8 225.7L599 225.1L599.2 224.3L599.3 223.6L599.4 222.9L599.6 222.2L599.8 221.5L600.1 220.8L600.4 220.2L600.8 219.6L601.2 219L601.6 218.4L602.1 217.8L602.5 217.3L603 216.7L603.5 216.2L603.9 215.6L604.1 214.9L604.3 214.2L604.4 213.5L604.5 212.8L604.5 212L604.7 211.3L605 210.7L605.3 210.1L605.7 209.6L606.1 209L606.4 208.4L606.7 207.8L606.9 207.2L607.1 206.5L607.4 205.9L607.6 205.3L607.9 204.7L608.2 204.1L608.6 203.6L608.9 203L609.3 202.5L609.7 202L610.2 201.5L610.6 201L611.1 200.5L611.4 200L611.7 199.4L612 198.8L612.2 198.2L612.5 197.6L612.6 197L612.8 196.4L613.1 195.9L613.3 195.3L613.7 194.8L614 194.3L614.5 193.9L615 193.5L615.4 193L615.7 192.5L616 192L616.2 191.4L616.3 190.8L616.5 190.2L616.5 189.5L616.9 189.1L616.9 188.4L617.7 188.2L617.5 187.4L618.4 187.3L618.1 186.4L619.1 186.4" stroke-dasharray="15.4 2.6 12.2 2.6 12.3 2.7 12.2 2.8 12.1 2.7 12.4 2.7 12.1 2.8 12.1 2.6 12.1 2.7 12.2 2.6 12.2 2.7 999.0 0.0"/>
<path d="M618.6 185.4L619.8 185.5L619 184.4L620.8 184.8L619.9 183.6L621.3 183.9L620.5 182.7L621.9 183L620.8 181.6L622.3 182L621.1 180.5L623.1 181.3L621.2 179.3L624 180.7L622.4 178.9L625 180.2L623.2 178.2L625.1 179L623.9 177.5L625.9 178.4L624.4 176.7L626.5 177.7L625.3 176.1L627.3 177L625.7 175.1L627.6 176.1L625.7 173.9L628 175.2L626.3 173.2L628.5 174.4L627.2 172.7L629.1 173.7L627.6 171.9L629.9 173.2L628 170.9L631.1 173L628.7 170.4L631.3 172.1L629.4 169.8L631.6 171.1L629.8 168.9L632.2 170.5L630.3 168.1L632.6 169.6L631.2 167.7L633.3 169.1L631.4 166.7L633.9 168.5L632.2 166.2L634.4 167.8L632.4 165.2L635.1 167.3L633.8 165.3L636 167L634 164.3L636.4 166.2L635.1 164.2L636.8 165.5L636 164L637.6 165.1L636.1 162.9L638.1 164.5L637.2 162.9L639 164.4L637.7 162.3L639.5 163.8L638.2 161.6L640 163.1L638.7 161.1L641 163.1L639.1 160.2L641.8 162.9L639.8 159.8L642.1 162L640.6 159.5L642.8 161.8L641.3 159.1L643 160.9L641.7 158.4L643.6 160.5L642.4 157.9L644 159.9L643.2 157.8L644.8 160.1L643.9 157.5L645 159.3L644.5 156.9L645.4 158.7L645.2 156.9L646.1 158.7L645.8 156.5L646.7 158.8L646.5 156.4L647.2 158.7L647.1 156.3L647.9 158.8L647.9 156.9L648.5 158.9L648.4 156.6L649.1 159.2L649.1 156.7L649.7 158.9L649.6 155.5L650.3 158.9L650.2 155.4L650.9 159.1L650.9 156L651.4 159L651.5 156.2L651.9 158.2L652.2 156.5L652.5 158.4L652.8 156.5L653 159.2L653.5 156.4L653.5 159.1L654.2 156.1L654.1 158.6L654.8 156.6L654.5 158.9L655.5 156.8L655 159.1L656.3 156.6L655.6 159L656.9 157.1L656.2 159.2L657.2 158L656.5 159.9L658 158.1L657 160.3L658.8 158.2L657.8 160.4L659.2 158.9L658.4 160.9L660 159.1L658.7 161.6L660.9 159.2L659.5 161.6L661.3 160L660 162.2L662.2 160.1L660.4 162.8L662.4 161.2L661.3 162.9L663.1 161.8L662.3 163.1L663.4 162.8L662.4 164.2L664.4 163.1L663 164.9L664.9 164L663.8 165.5L665.4 164.9L664.6 166.2L665.9 165.9L665.2 166.9L666.4 166.8L665.7 167.9L666.9 167.8L666.5 168.7L667.6 168.7L667.1 169.6L668.2 169.6L667.9 170.5L668.7 170.8L668.5 171.6L669.1 172.2"/>
<path d="M669.1 172.2L669.2 173L669.7 173.6L669.9 174.5L670.2 175.4L670.5 176.5L670.7 177.8L671 179.3L671.3 181L671.6 182.8L671.9 184.8L672.2 187L672.5 189.6L672.9 192.6L673.2 195.8L673.5 198.9L673.8 201.8L674.1 204.7L674.4 207.5L674.7 210.2L675 212.8L675.3 215.1L675.5 217.2L675.8 219.1L676.1 221L676.4 222.9L676.8 225L677.1 227.4L677.4 230.1L677.7 233.1L678.1 236.4L678.4 239.9L678.7 243.5L678.9 247.4L679.2 251.6L679.5 256L679.8 260.5L680 265L680.4 269.3L680.7 273.3L681 276.9L681.3 280.3L681.6 283.5L682 286.7L682.3 290.1L682.6 293.7L682.8 297.7L683.1 302.2L683.4 306.8L683.7 311.5L684 316.1L684.3 320.3L684.6 324.3L684.9 328.3L685.2 332.2L685.5 336.1L685.8 340L686.1 344.1L686.4 348.3L686.7 352.5L687 356.5L687.3 360.3L687.6 363.6L687.9 366.5L688.2 369.4L688.5 372L688.8 374.5L689.1 376.9L689.5 379.2L689.8 381.4L690.1 383.5L690.4 385.6L690.6 387.5L690.9 389.5L691.2 391.4L691.5 393.2L691.8 395.1L692.1 396.9L692.4 398.8L692.7 400.7L693 402.7L693.2 404.7L693.5 406.6L693.8 408.6L694.1 410.5L694.4 412.3L694.7 414L695.1 415.5L695.4 417L695.8 418.3L696.1 419.5L696.4 420.7L696.6 421.8L696.9 422.9L697.2 423.9L697.4 425L697.7 426.1L698 427.2L698.3 428.2L698.7 429.3L699 430.3L699.3 431.3L699.6 432.2L699.8 433.0" stroke-dasharray="20.3 7.9 28.7 15.6 29.5 14.8 29.5 13.6 31.5 11.9 32.8 11.9 999.0 0.0" stroke-width="3.6"/>
<path d="M700.1 433.8L700.4 434.6L700.7 435.4L701 436.1L701.3 436.9L701.6 437.6L701.9 438.3L702.2 439L702.5 439.7L702.8 440.3L703.1 440.9L703.4 441.5L703.7 442.1L704 442.6L704.3 443.1L704.6 443.5L704.9 444L705.2 444.4L705.5 444.9L705.8 445.3L706.1 445.8L706.4 446.2L706.7 446.6L707 447L707.3 447.3L707.6 447.7L707.9 448L708.2 448.4L708.5 448.7L708.8 449L709.1 449.3L709.5 449.6L709.8 449.9L710.1 450.1L710.5 450.3L710.8 450.5L711.2 450.7L711.5 450.9L711.9 451.1L712.1 451.3L712.4 451.6L712.6 451.9L712.8 452.3L713.1 452.6L713.3 452.8L713.6 453L713.9 453.3L714.1 453.5L714.4 453.8L714.7 453.9L715.1 454.1L715.4 454.2L715.8 454.2L716.1 454.3L716.5 454.4L716.8 454.5L717.1 454.6L717.4 454.7L717.7 454.9L718 455L718.2 455.2L718.5 455.4L718.8 455.6L719.1 455.8L719.3 456L719.6 456.1L719.9 456.2L720.3 456.2L720.6 456.3L720.9 456.3L721.2 456.4L721.5 456.5L721.8 456.6L722.1 456.7L722.4 456.7L722.7 456.8L723 456.9L723.3 457L723.6 457.1L723.9 457.2L724.2 457.3L724.5 457.3L724.8 457.4L725.1 457.5L725.4 457.5L725.7 457.6L726 457.6L726.3 457.7L726.6 457.7L726.9 457.8L727.2 457.9L727.5 458L727.8 458.1L728.1 458.2L728.4 458.2L728.7 458.3L729 458.3L729.3 458.3L729.6 458.4L729.9 458.4L730.2 458.4L730.5 458.4L730.8 458.4L731.1 458.5L731.4 458.5L731.7 458.6L732 458.7L732.3 458.8L732.6 458.8L732.9 458.8L733.2 458.8L733.5 458.8L733.8 458.7L734.1 458.7L734.4 458.6L734.7 458.5L735 458.4L735.4 458.4L735.7 458.4L736 458.4L736.3 458.4L736.6 458.4L736.8 458.6L737.1 458.7L737.4 458.9L737.7 459.1L738 459.2L738.3 459.3L738.6 459.3L738.9 459.3L739.2 459.2L739.5 459.1L739.8 459L740.1 459L740.4 459L740.7 459.1L741 459.3L741.3 459.4L741.6 459.6L741.9 459.7L742.2 459.7L742.5 459.8L742.8 459.8L743.1 459.9L743.4 459.9L743.7 460L744 460L744.3 460L744.6 459.9L744.9 459.9L745.2 459.9L745.5 459.9L745.8 459.9L746.1 460L746.4 460.1L746.7 460.2L747 460.2L747.3 460.2L747.6 460.2L747.9 460.1L748.2 460L748.5 459.9L748.8 459.8L749.1 459.7L749.4 459.7L749.7 459.6L750 459.5L750.3 459.4L750.6 459.3L750.9 459.3L751.2 459.3L751.5 459.4L751.8 459.6L752.1 459.8L752.4 460L752.7 460.2L753 460.2L753.3 460.2L753.6 460.1L753.9 460L754.2 459.8L754.5 459.7L754.8 459.7L755.1 459.7L755.4 459.7L755.7 459.8L756 459.8L756.3 459.8L756.6 459.7L756.9 459.7L757.2 459.6L757.5 459.6L757.8 459.5L758.1 459.5L758.4 459.5L758.7 459.5L759 459.6L759.3 459.6L759.6 459.7L759.9 459.7L760.2 459.7L760.5 459.7L760.8 459.7L761.1 459.7L761.4 459.7L761.7 459.6L762 459.6L762.3 459.6L762.6 459.6L762.9 459.6L763.2 459.7L763.5 459.8L763.8 459.9L764.1 459.9L764.4 459.9L764.7 459.9L765 459.9L765.3 459.9L765.6 459.8L765.9 459.8L766.2 459.7L766.5 459.7L766.8 459.7L767.1 459.7L767.4 459.7L767.7 459.7L768 459.7L768.3 459.7L768.6 459.7L768.9 459.7L769.2 459.7L769.5 459.7L769.8 459.8L770.1 459.8L770.4 459.7L770.7 459.7L771 459.8L771.3 459.9L771.6 460L771.9 460.1L772.2 460.1L772.5 460.2L772.8 460.1L773.1 460.1L773.4 460L773.7 460L774 459.9L774.3 459.9L774.6 459.9L774.9 459.9L775.2 459.8L775.5 459.7L775.8 459.7L776.1 459.6L776.4 459.7L776.7 459.8L777 459.9L777.3 459.9L777.6 460L777.9 460L778.2 459.9L778.5 459.8L778.8 459.6L779.1 459.6L779.4 459.5L779.7 459.6L780 459.7L780.3 459.8L780.6 459.8L780.9 459.8L781.2 459.7L781.5 459.6L781.8 459.5L782.1 459.5L782.4 459.5L782.7 459.6L783 459.7L783.3 459.7L783.6 459.8L783.9 459.9L784.2 459.9L784.5 459.9L784.8 459.8L785.1 459.8L785.4 459.8L785.7 459.7L786 459.6L786.3 459.6L786.6 459.5L786.9 459.6L787.2 459.6L787.5 459.7L787.8 459.7L788.1 459.7L788.4 459.7L788.7 459.7L789 459.6L789.3 459.6L789.6 459.5L789.9 459.5L790.2 459.5L790.5 459.4L790.8 459.3L791.1 459.3L791.4 459.3L791.7 459.3L792 459.4L792.3 459.4L792.6 459.5L792.9 459.5L793.2 459.5L793.5 459.5L793.8 459.4L794.1 459.4L794.4 459.3L794.7 459.3L795 459.3L795.3 459.2L795.6 459.3L795.9 459.3L796.2 459.3L796.5 459.3L796.8 459.3L797.1 459.3L797.4 459.3L797.7 459.2L798 459.1L798.3 459.1L798.6 459.2L798.9 459.2L799.2 459.3L799.5 459.3L799.8 459.2L800.1 459.1L800.4 459L800.7 459L801 458.9L801.3 458.9L801.6 459L801.9 459.1L802.2 459.2L802.5 459.2L802.8 459.1L803.1 459.1L803.5 459L803.9 459L804.2 459.1L804.5 459.2L804.8 459.3L805.1 459.4L805.4 460.5L805.7 462L806 463.3" stroke-dasharray="19.9 3.0 15.9 5.9 18.4 6.3 17.8 6.1 17.8 4.9 999.0 0.0" stroke-width="3.6"/>
<path d="M806.4 464.6L806.7 465.9L806.9 467.3L807.2 468.6L807.2 469.9L807.8 470.9L807.8 472.1L808.5 472.9L808.4 474L809 474.9L808.8 475.9L809.7 476.6L809.2 477.7L810.4 478.3L810 479.3L811 479.9L810.5 481L811.7 481.5L810.9 482.7L812.4 483L811.3 484.3L812.9 484.6L812 485.9L813.6 486.1L812.5 487.5L814 487.7L813.1 489L814.6 489.2L813.9 490.3L815.6 490.5L814.3 491.8L816.4 491.7L814.3 493.5L817 493L815.2 494.6L817.4 494.3L816.3 495.6L817.9 495.5L816.3 497.1L818.8 496.5L817 498.1L819.6 497.4L817.7 499.2L819.7 498.8L818 500.5L820.6 499.6L818.4 501.6L821.2 500.5L818.9 502.6L821.4 501.7L820.1 503.2L821.8 502.7L820.9 503.9L822.8 503.2L820.4 505.6L823.7 503.7L821.3 506.2L824.3 504.4L822.1 506.8L824.9 505.1L822.8 507.5L825.3 506L823.9 507.8L825.8 506.7L824.4 508.6L827.5 506.3L824.6 509.7L827.7 507.3L825.8 509.7L828.1 508.1L825.8 511L828.6 508.7L826.3 511.8L828.6 509.8L827.4 511.8L829.2 510.3L828.3 512L830.8 509.5L828.3 513.3L831.2 510L828.9 513.9L831.7 510.4L829.6 514.2L832.9 509.7L830.2 514.6L832.2 512L831.4 514L832.5 512.9L832 514.5L834 511.6L832.1 515.8L834.2 512.6L832.7 516.1L834.4 513.7L833.4 516.4L835.5 512.9L833.6 517.5L835.7 513.9L835 516.2L836.3 514.1L835.6 516.6L837.1 514L835.8 517.9L837.5 514.6L836.5 518L838.1 514.7L837.3 517.8L839 513.9L837.9 518.2L839.2 515.4L838.6 518.1L839.7 515.7L839.3 518L840.5 515.2L839.8 518.6L841.1 515.3L840.4 518.9L841.5 516.2L840.9 519.6L842 516.3L841.3 520.7L842.6 516.6L842.5 518.4L843.1 517L843.1 518.5L844 516.1L843.5 519.4L844.5 516.7L843.9 520.4L845.3 515.9L844.6 520.6L845.7 516.6L845.3 520.3L846.2 517.3L846.1 519.2L846.9 517L846.8 518.9L847.5 517L847.1 520.8L848.3 516.2L847.8 520.2L848.7 517.1L848.5 520.1L849.5 515.8L849 520.8L849.8 517.9L849.7 520.1L850.4 517.9L850.3 520.4L851.2 516.7L850.8 521.2L851.8 516.6L851.5 520.6L852.5 516.3L852 521.3L853 516.5L852.6 521.7L853.4 518.2L853.2 521.9L854 518.1L853.9 520.8L854.7 517.7L854.5 521.4L855.2 518L854.9 522.4L855.9 517.7L855.5 522.6L856.6 517.2L856.3 521.8L857 518.3L857 520.9L857.5 519.1L857.5 521.5L858.3 518L858.1 521.9L858.9 518.1L858.6 522.7L859.5 518.2L859.2 522.9L860 518.5L859.8 522.7L860.5 519.4L860.5 521.7L861.1 519.4L861.1 521.9L861.9 517.7L861.6 523.4L862.5 518L862.3 522.2L863.1 518.1L863 521.8L863.7 518.4L863.5 522.6L864.2 519.3L864.2 521.8L864.8 518.9L864.8 521.4L865.6 518.1L865.3 522.8L866 519.5L865.7 524.2L866.6 519.6L866.4 524.1L867.1 520.2L867.1 523.3L867.7 520.6L867.8 522.4L868.3 520.3L868.3 522.8L869.1 519.1L868.9 523.5L869.7 518.8L869.5 523.7L870.2 520L869.9 525.6L870.8 520.1L870.7 523.6L871.3 520.6L871.4 522.7L871.9 520.8L872 523.1L872.6 519.7L872.5 524.1L873.2 519.9L873.1 524.3L873.8 520L873.6 525.2L874.3 520.5L874.2 524.8L874.9 520.7L875 523.4L875.6 519.7L875.6 523.2L876.3 518.5L876.1 524.2L876.8 519.7L876.7 524.1L877.4 519.4L877.3 524.2L878 520.2L877.9 524.6L878.5 520.7L878.6 523.1L879.1 521L879.2 523.3L879.8 519.2L879.8 523.7L880.5 518.8L880.3 525.2L881.1 518.7L881 524.5L881.6 518.9L881.5 525.3L882.1 520.9L882.2 523.8L882.7 521.1L882.8 524L883.3 520.1L883.4 525L883.9 521.4L884 525L884.5 521.3L884.5 526.4L885.1 521.5L885.2 526L885.6 522.2L885.9 524L886.2 522L886.4 524.7L886.9 520.1L887 526L887.4 521.5L887.7 524.9L888 521.2L888.3 524.9L888.6 521L888.8 526L889.2 521.7L889.5 524.9L889.8 522L890.1 523.8L890.4 521.1L890.7 524.7L891 521L891.3 525.2L891.6 520.9L891.9 525.3L892.2 521.2L892.5 525.7L892.8 521.4L893.1 524.6L893.4 521.8L893.7 524.8L894 520.5L894.3 525.5L894.6 519.8L894.9 524.2L895.2 519.4L895.5 524.8L895.8 520.7L896.1 525.2L896.4 522.3L896.7 524.5L897 521.9L897.3 524.3L897.6 520.3L897.9 525.1L898.2 520.7L898.5 524.6L898.8 520.6L899.1 525L899.4 520.5L899.7 524.7L900 520.6L900.3 523.9L900.6 521.1L900.9 523.8L901.2 520.3L901.5 525.5L901.8 520.2L902.1 525.2L902.4 521.5L902.7 525.9L903 520.6L903.3 525.1L903.6 521.6L903.9 524.1L904.2 521.6L904.5 524.8L904.8 521.3L905.1 525.5L905.4 520.6L905.7 524.7L906 521.5L906.3 526.8L906.6 521.3L906.9 526L907.2 522.2L907.5 524.6L907.8 522L908.1 524.8L908.4 520.8L908.7 526.8L909 520.7L909.3 526L909.6 521.5L909.9 525.6L910.2 521L910.5 525L910.8 521.5L911.1 524.8L911.4 521.5L911.7 524.1L912 521.1L912.3 525.4L912.6 521.7L912.9 525.9L913.2 521.4L913.5 524.8L913.8 520.2L914.1 524.8L914.4 521.5L914.7 524.3L915 521.9L915.3 524.4L915.6 521L915.9 526.4L916.2 521.6L916.5 525.5L916.8 521L917.1 525.2L917.4 519.8L917.7 525.1L918 521.7L918.3 523.7L918.6 522.1L918.9 524.5L919.2 520.1L919.5 526L919.8 519.8L920.1 525.3L920.4 521.4L920.7 525.1L921 521.1L921.3 525.4L921.6 521.2L921.9 524.3L922.2 521.1L922.5 524.3L922.8 520.8L923.1 525.2L923.4 520.2L923.7 525L924 520L924.3 525.6L924.6 519.9L924.9 526L925.2 522.1L925.5 524.4L925.8 521.9L926.1 524.9L926.4 519.8L926.7 525.4L927 521.2L927.3 525.6L927.6 520.8L927.9 525.2L928.2 521L928.5 524.9L928.8 522.7L929.1 523.9L929.4 522.4L929.7 524.5L930 520.1L930.3 526.3L930.6 520.9L930.9 524.8L931.2 521.1L931.5 525L931.8 519.7L932.1 524.8L932.4 521.9L932.7 524.5L933 521.8L933.3 524.8L933.6 520.3L933.9 525.5L934.2 520.4L934.5 525.1L934.8 520.4L935.1 525.6L935.4 520.8L935.7 525.5L936 521.7L936.3 525L936.6 522L936.9 524.4L937.2 520.8L937.5 525.7L937.8 521.4L938.1 525.7L938.4 521.6L938.7 524.7L939 521.4L939.3 525.6L939.6 522.2L939.9 524.7L940.2 521.9L940.5 524.9L940.9 520.4L941 526.3L941.4 521.1L941.7 526L942 521.1L942.3 525.8L942.6 521.6L942.8 526L943.2 522.4L943.5 524.9L943.8 522.1L944.1 524.8L944.5 520.6L944.7 525.8L945.1 520L945.3 525.5L945.6 522L945.8 526.1L946.2 522.6L946.4 526.7L946.8 522.2L947.1 525L947.4 522.4L947.7 525.2L948 522L948.2 526.7L948.6 521.9L948.9 525.6L949.2 521.9L949.4 526.2L949.8 521.7L950 526.6L950.4 522.6L950.7 525.1L951 522.8L951.3 524.8L951.7 520.4L951.8 525.8L952.2 521.6L952.4 526.3L952.8 522.8L953 526.4L953.4 522.2L953.6 526.7L954 522.8L954.3 525.2L954.6 522.6L954.9 525.3L955.2 521.8L955.5 525.3L955.9 521.3L956 526.2L956.4 521.8L956.6 525.7L957.1 521.4L957.2 526L957.6 522.6L957.9 525L958.2 522.2L958.5 525.3L958.9 520.2L959 526.4L959.5 521.8L959.6 526.4L960 521.9L960.2 526.7L960.7 521.1L960.8 526.5L961.2 522.7L961.5 525.5L961.8 522L962.1 525L962.4 521.8L962.7 525.6L963 522L963.3 526.5L963.6 521L963.9 525.9L964.2 522.3L964.5 526L964.8 522.6L965.1 525.6L965.4 522.4L965.7 525L966 521.6L966.2 526.4L966.6 522.1L966.8 527.1L967.3 521.8L967.4 526.6L967.9 521.6L968 525.8L968.4 522.3L968.7 524.8L969 523L969.3 525.1L969.7 522.1L969.8 526.3L970.3 522.4L970.3 527.8L970.9 522.3L970.9 527.6L971.5 521.4L971.6 526.4L972.1 522.8L972.2 525.6L972.7 523.2L972.7 525.8L973.6 521.3L973.1 526.1L974.5 522L973.4 526L975 523.1L974.1 525.3L975.9 523.2L974.6 525.6L976.4 524.2L975.3 526L976.6 525.6" stroke-dasharray="14 5"/>
<path d="M976.1 526.6L977 526.6L976.9 527.3L977.5 527.7L977.4 528.4L978 528.9L978 529.6L978.5 530.2L978.4 531L979 531.5L979 532.3L979.7 532.8L979.7 533.7L980.3 534.1L980.4 534.9L981.2 535.3L981.4 536L982.1 536.4L982.1 537.2L982.9 537.7L982.9 538.5L983.4 539.1L983.4 539.9L983.7 540.6L983.7 541.5L984.1 542.1L984 543L984.4 543.7L984.3 544.7L984.8 545.4L984.8 546.3L985.6 547L985.9 547.8L986.7 548.5L987.1 549.3L987.8 550L987.9 551L988.6 551.7L988.5 552.7L989 553.4L988.8 554.4L989.5 555.1L989.5 556L990.2 556.7L990.1 557.6L990.6 558.3L990.5 559.3L991 560L990.8 561L991.5 561.7L991.4 562.6L992.1 563.3L991.9 564.3L992.6 565L992.5 565.9L993.2 566.6L993.1 567.6L993.9 568.3L993.8 569.2L994.4 569.9L994.3 570.9L995 571.6L995 572.6L995.8 573.2L995.8 574.2L996.5 574.8L996.4 575.8L997.1 576.5L997 577.5L997.4 578.3L997.3 579.2L997.8 580L997.8 580.9L998.4 581.6L998.5 582.6L999 583.3L999.1 584.2L999.8 584.9L999.8 585.9L1000.3 586.6L1000.3 587.6L1001 588.3L1001 589.2L1001.7 589.9L1001.6 590.9L1002.3 591.7L1002.3 592.6L1003 593.3L1002.9 594.3L1003.5 595L1003.4 596L1004.1 596.7L1004 597.8L1004.6 598.5L1004.4 599.5L1005 600.3L1004.9 601.3L1005.5 602L1005.4 603L1006.2 603.7L1006.3 604.6L1007 605.4L1007.1 606.3L1007.8 607L1007.6 608L1008.3 608.7L1008.2 609.7L1008.8 610.5L1008.8 611.4L1009.5 612.1L1009.6 613.1L1010.4 613.8L1010.3 614.7L1010.9 615.5L1010.7 616.5L1011.2 617.3L1011 618.3L1011.4 619.2L1011.3 620.2L1011.9 620.9L1011.8 621.9L1012.4 622.6L1012.5 623.6L1013.3 624.2L1013.2 625.2L1014.1 625.9L1014.2 626.8L1015 627.4L1015.1 628.4L1015.9 629L1015.7 630.1L1016.5 630.8L1016.2 631.8L1016.9 632.5L1016.5 633.6L1017.1 634.3L1016.9 635.3L1017.6 636.1L1017.6 637L1018.5 637.6L1018.7 638.5L1019.5 639.2L1019.4 640.2L1020.1 640.9L1019.8 641.9L1020.3 642.7L1020 643.8L1020.6 644.5L1020.4 645.5L1021.2 646.2L1021.2 647.1L1021.9 647.8L1022 648.8L1022.8 649.4L1022.7 650.4L1023.5 651L1023.3 652.1L1024 652.8L1023.8 653.8L1024.4 654.5L1024.3 655.5L1025 656.2L1025 657.1L1025.8 657.8L1025.6 658.8L1026.2 659.5L1026 660.6L1026.7 661.3L1026.4 662.3L1027.3 662.9L1027.2 663.9L1028.1 664.5L1027.9 665.5L1028.7 666.2L1028.5 667.2L1029.1 668L1028.9 669L1029.7 669.7L1029.5 670.7" stroke-dasharray="16.6 4.5 19.0 4.8 19.3 4.5 19.0 4.6 19.0 4.6 20.0 4.7 19.5 4.9 999.0 0.0"/>
<path d="M1030.5 671.3L1030.3 672.3L1031.4 672.9L1031 674L1031.9 674.6L1031.6 675.6L1032.5 676.3L1031.9 677.4L1032.5 678.2L1032.1 679.3L1032.7 680L1032.5 681L1033.5 681.6L1033.3 682.6L1034.6 683.2L1034.4 684.2L1035.5 684.7L1035.5 685.7L1036.5 686.3L1036 687.4L1037 688L1036.3 689.2L1037.1 689.8L1036.4 691L1037.5 691.6L1037 692.7L1038.1 693.2L1037.9 694.2L1039.1 694.7L1038.8 695.8L1039.9 696.3L1039.5 697.4L1040.4 698L1039.8 699.1L1040.9 699.7L1040.4 700.8L1041.3 701.4L1041 702.4L1041.9 703L1041.6 704L1042.6 704.6L1042.1 705.7L1043.2 706.2L1042.7 707.3L1043.6 707.9L1043 709L1044 709.6L1043.4 710.7L1044.6 711.1L1044.4 712.1L1045.6 712.6L1045.4 713.5L1046.8 713.9L1046 715.1L1047.1 715.6L1046.3 716.8L1047.3 717.3L1046.9 718.3L1047.8 718.8L1047.6 719.8L1048.3 720.4L1048 721.4L1049.1 721.8L1048.9 722.8L1049.8 723.3L1049.4 724.3L1050.5 724.7L1050 725.8L1051.2 726.2L1050.8 727.2L1051.6 727.7L1051.4 728.7L1052.1 729.3L1051.8 730.3L1052.8 730.7L1052.3 731.8L1053.4 732.2L1053.3 733.1L1054.3 733.5L1054.1 734.5L1055.1 734.9L1054.9 735.9L1056 736.3L1055.4 737.4L1056.5 737.9L1055.6 739.1L1056.8 739.5L1056.1 740.6L1057.2 741L1056.8 742L1057.9 742.4L1057.2 743.6L1058.2 744L1057.8 745L1059 745.4L1058.6 746.3L1059.9 746.6L1059.1 747.8L1060.2 748.2L1059.6 749.2L1060.6 749.6L1060 750.7L1061.2 751L1060.5 752.1L1061.7 752.4L1061.1 753.5L1062.3 753.8L1061.7 754.9L1063.1 755.1L1062.7 756.1L1064.1 756.3L1063.5 757.4L1064.7 757.6" stroke-dasharray="12.9 4.1 13.8 4.4 13.6 4.4 15.0 4.1 13.9 4.2 15.7 5.2 17.3 999.0"/>
<path d="M1064 758.7L1065.1 759L1064 760.3L1065.6 760.2L1064.4 761.6L1065.8 761.5L1064.6 762.9L1066.7 762.4L1065.6 763.7L1067.4 763.3L1066.2 764.7L1068 764.3L1067.1 765.6L1068.7 765.2L1067.9 766.5L1069.3 766.2L1068 767.7L1069.7 767.2L1068.4 768.8L1070.1 768.2L1069.1 769.6L1070.6 768.9L1069.9 770.3L1071.5 769.1L1071.1 770.2L1072.3 769.2L1071.9 770.3L1072.9 769.3L1072.5 770.6L1073.3 769.8L1073 771.2L1073.7 770.1L1073.4 771.9L1074.2 770.6L1074 772.2L1074.7 771.1L1074.6 772.5L1075.3 771L1075.3 772.4L1075.9 770.9L1076 772.3L1076.5 771.2L1076.6 772.8L1077 771.4L1077.3 772.8L1077.5 771.1L1078 772.4L1077.9 770.8L1078.7 772.4L1078.4 770.7L1079.4 772L1078.9 770.5L1080 771.5L1079.7 770.4L1080.7 771L1080.2 769.9L1081.1 770.1L1080.7 769.1L1081.8 769.5L1081 768.2L1082.3 768.6L1081.8 767.6L1082.8 767.8L1082.5 766.9L1083.6 767.2L1083.2 766.3L1084.5 766.7L1083.8 765.6L1085.4 766.1L1085 765.2"/>
<path d="M1086.4 765.6L1085.6 764.3L1087 764.6L1086 763.3L1087.5 763.5L1086.3 762.1L1087.8 762.3L1087 761.1L1088.2 761.1L1087.8 760.1L1088.9 760L1088.3 759L1089.3 758.8L1088.8 757.8L1089.6 757.4L1088.9 756.4L1090 756.2L1089.4 755.1L1090.5 754.8L1090.4 754L1091.1 753.5L1091 752.6L1091.6 752L1091.4 751L1092.3 750.5L1091.7 749.4L1092.7 749L1092.4 747.9L1093.4 747.4L1093 746.4L1094.2 746L1093.9 745L1094.9 744.5L1094.9 743.5L1095.9 743L1095.7 742L1096.6 741.4L1096.2 740.3L1097.4 739.7L1096.6 738.5L1097.4 737.8L1097.1 736.7L1098 736.1L1097.4 734.9L1098.6 734.3L1098.2 733.3L1099.3 732.7L1098.8 731.6L1099.8 731L1099.6 730L1100.4 729.4L1100 728.4L1101.4 728L1100.8 726.9L1102.2 726.5L1101.7 725.4L1102.9 725L1102.4 723.9L1103.6 723.5L1102.9 722.3L1103.7 721.7L1103.4 720.7L1104.2 720.1L1103.9 719.1L1105.1 718.7L1104.8 717.7L1106.2 717.3L1105.3 716.1L1106.5 715.7L1105.9 714.6L1106.8 714L1106.2 712.9L1107.1 712.4L1106.8 711.4L1107.9 710.9L1107.4 709.8L1108.3 709.3L1107.9 708.2L1108.8 707.7L1108.2 706.6L1109.3 706L1108.9 705L1109.7 704.3L1109.5 703.3L1110.2 702.6L1109.8 701.5L1110.8 700.9L1110.2 699.7L1111.2 699.1L1110.6 697.9L1111.9 697.4L1111.5 696.3L1112.7 695.8L1112.4 694.7L1113.5 694.2L1112.9 693L1113.8 692.5L1113.4 691.5L1114.3 690.9L1114 690L1115 689.5L1114.6 688.5L1115.7 688.1L1114.9 686.9L1116.1 686.6L1115.5 685.5L1116.7 685.3L1116.5 684.4L1118 684.4L1117.4 683.3" stroke-dasharray="15.2 5.3 14.0 4.2 13.8 4.3 14.8 4.1 14.9 4.3 13.8 4.3 999.0 0.0"/>
<path d="M1119 683.4L1118.1 682.3L1119.8 682.5L1118.5 681.1L1119.6 681L1118.8 679.8L1120.3 680.1L1119.3 678.7L1120.9 679.2L1119.8 677.7L1121.7 678.5L1120.6 677.1L1122.3 677.8L1121.7 676.7L1123.2 677.4L1122.4 676.1L1123.7 676.7L1122.8 675.3L1124.2 676.1L1123.4 674.7L1124.7 675.5L1124 674L1125.2 674.9L1124.7 673.6L1125.7 674.4L1125.3 673.1L1126.3 674.2L1126 672.8L1126.8 674.1L1126.7 672.4L1127.2 673.9L1127.4 672.4L1127.7 673.7L1128.1 672.4L1128.2 673.9L1128.8 672.4L1128.6 674.4L1129.4 672.8L1129.2 674.3L1130.2 672.8L1129.8 674.6L1130.7 673.4L1130.3 675.2L1131.2 673.9L1131 675.2L1131.7 674.2L1131.5 675.8L1132.3 674.3L1132.3 675.6L1132.9 674.4L1133 675.5L1133.6 674.1L1133.6 675.8L1134.2 673.9L1134.2 676L1134.7 674L1134.8 675.8L1135.3 674.1L1135.4 676L1135.9 673.8L1136.1 675.9L1136.6 673.5L1136.7 675.9L1137.1 673.6L1137.3 675.8L1137.6 674.4L1137.9 676L1138.1 674.6L1138.6 676.1L1138.7 674.9L1139.3 676.1L1138.9 674L1140 676L1139.5 674.3L1140.7 675.7L1140.2 674.2L1141.4 675.1L1140.6 673.6L1142.4 674.7L1141.2 673L1142.6 673.5L1141.5 672L1143.3 672.7L1142.4 671.5L1143.6 671.7L1143 670.7L1144.2 670.8L1144 670L1144.8 669.9L1144.7 669.1"/>
<path d="M1145.3 668.7L1145.3 667.9L1145.7 667.3L1145.9 666.6L1146.1 665.8L1146.4 665L1146.7 664.2L1146.9 663.3L1147.3 662.3L1147.6 661.1L1147.9 659.8L1148.3 658.3L1148.7 656.7L1149.1 654.9L1149.4 653.1L1149.7 651.3L1150 649.4L1150.3 647.3L1150.6 645L1150.9 642.7L1151.2 640.5L1151.5 638.6L1151.8 637L1152 635.4L1152.3 634L1152.5 632.5L1152.8 631L1153 629.4L1153.4 627.6L1153.7 625.7L1154 623.7L1154.4 621.7L1154.7 619.7L1155 617.9L1155.3 616.1L1155.5 614.5L1155.8 612.9L1156.1 611.4L1156.4 610L1156.7 608.5L1157 607L1157.3 605.5L1157.6 604L1157.8 602.4L1158.1 600.7L1158.4 599L1158.6 597.3L1159 595.6L1159.3 593.9L1159.7 592.3L1160.1 590.8L1160.4 589.3L1160.8 587.9L1161.1 586.6L1161.3 585.3L1161.6 584.1L1161.9 582.9L1162.1 581.7L1162.4 580.5L1162.7 579.4L1162.9 578.2L1163.2 577.1L1163.6 575.9L1163.9 574.8L1164.2 573.6L1164.5 572.5L1164.8 571.3L1165.1 570.2L1165.4 569.1L1165.7 567.9L1166 566.8L1166.1 565.7L1166.5 564.7L1166.6 563.7L1167.1 562.7L1167.2 561.7L1168 560.9L1167.8 559.9L1168.7 559.2L1168.4 558.1L1169.2 557.4L1169.1 556.4L1170.1 555.8L1169.5 554.7L1170.6 554.3L1170 553.2L1171.1 552.8L1170.6 551.8L1172.1 551.8L1171.4 550.7L1172.7 550.6L1172.1 549.6L1173.4 549.6L1172.7 548.5L1174 548.6L1173 547.3L1174.6 547.5L1173.4 546.1L1175.2 546.6L1173.9 545.1L1175.5 545.6L1174.2 544L1176.6 545.1L1175.1 543.3" stroke-dasharray="26.1 10.0 26.0 10.0 26.0 10.0 999.0 0.0"/>
<path d="M1175.1 543.3L1177.1 544.4L1175.9 542.8L1177.3 543.4L1176.7 542.2L1178.1 542.9L1177.1 541.4L1178.9 542.7L1177.4 540.5L1179.9 542.6L1177.8 539.6L1181.1 542.8L1178.3 538.9L1181.5 542.2L1179.2 538.8L1181.6 541.2L1180.4 539L1181.6 539.9L1180.8 538.2L1182.2 539.5L1180.6 536.6L1183.3 539.9L1181.3 536.3L1183.8 539.4L1182.1 536.2L1184.3 539L1182.6 535.7L1185.5 539.6L1184 536.5L1185.3 537.9L1184.4 535.7L1185.7 537.2L1184.7 534.9L1187 538.1L1185.2 534.3L1187.5 537.5L1185.6 533.6L1188.2 537.5L1186.2 533.2L1188.6 536.7L1187.2 533.6L1188.9 535.9L1187.8 533.2L1189.3 535.2L1188 532.1L1190.1 535.3L1188.6 531.8L1190.5 534.6L1189.2 531.3L1191.8 535.7L1190.2 531.7L1192.2 535.1L1191.3 532.4L1192.4 534.1L1191.7 531.8L1192.9 533.5L1192.1 530.9L1193.7 533.8L1192.9 531L1194.3 533.6L1193.5 530.9L1195.3 534.4L1193.7 529.6L1196.1 534.6L1194.8 530.4L1196.1 533L1195.3 530L1196.6 532.5L1195.9 529.6L1197.7 533.7L1196.6 529.8L1197.8 532.4L1197 529L1198.7 532.9L1197.4 528.1L1199.2 532.5L1198.5 529.3L1199.5 531.3L1199 529L1199.9 530.7L1199.4 528.1L1200.9 532L1199.8 527L1201.8 532.8L1200.3 526.5L1202.3 532.2L1201.2 527.1L1202.7 531.4L1202.2 528.5L1203 530.2L1202.8 528.2L1203.5 529.8L1203.2 527.3L1204.4 530.7L1203.5 525.8L1205.2 531.6L1204.3 526.5L1205.9 531.9L1205.1 527.1L1206.2 530.9L1205.7 526.9L1206.6 529.7L1206.4 527.1L1207.1 529L1206.8 526.2L1207.8 529.5L1207.3 525.2L1208.4 529.4L1208 525.6L1209 529.8L1208.7 525.9L1209.6 529.6L1209.4 526.5L1210.1 528.9L1210.1 526.6L1210.6 528.6L1210.6 525.9L1211.4 529.6L1211.1 525.6L1212.1 530.1L1211.8 525.9L1212.6 529.6L1212.4 525.8L1213.3 530.2L1213.1 526.5L1213.7 528.4L1213.7 526.3L1214.2 528.2L1214.3 525.9L1215 529.5L1214.8 525.3L1215.5 528.9L1215.4 524.8L1216.1 529L1216.1 525.7L1216.9 530.1L1216.7 526.1L1217.3 528.6L1217.3 526L1217.9 528.3L1217.9 525.5L1218.6 529.3L1218.5 525.2L1219.1 528.8L1219.1 525.5L1219.7 528.6L1219.7 525.2L1220.4 529.2L1220.3 525.3L1220.7 526.9L1220.8 524.7L1221.4 527.4L1221.3 523.3L1222.2 529.3L1222 524.2L1222.6 527.8L1222.6 523.5L1223.3 528.2L1223.2 523.2L1223.9 528.3L1223.9 524.5L1224.4 527L1224.5 525.1L1225 527.8L1225 524L1225.7 528.2L1225.7 524.3L1226.2 527.7L1226.3 524.2L1226.8 527L1226.8 523.7L1227.4 526.8L1227.5 524.5L1228 526.7L1228.1 524.2L1228.6 526.9L1228.6 522.9L1229.2 527.9L1229.3 523.5L1229.9 528.2L1229.9 523.7L1230.4 527.2L1230.5 524.1L1231 527.3L1231.1 524.1L1231.6 526.6L1231.8 524.7L1232.2 526.6L1232.3 523.6L1232.8 527.8L1232.9 522.9L1233.4 527.3L1233.5 523.4L1234 527L1234.1 523.5L1234.6 526.7L1234.8 524.5L1235.1 526.1L1235.3 524.3L1235.7 526.2L1235.9 523.7L1236.4 526.3L1236.5 522.9L1236.9 526.1L1237.1 523L1237.6 526.2L1237.7 523.4L1238.2 526.8L1238.3 524.2L1238.7 525.9L1238.9 524.1L1239.4 526.2L1239.5 522.7L1240 527.6L1240.1 523.7L1240.6 527.2L1240.7 523.6L1241.2 527.3L1241.3 523L1241.8 526.7L1242 524.1L1242.4 526.1L1242.6 524.1L1242.9 525.7L1243.1 523.1L1243.6 526.4L1243.7 522.8L1244.1 525.9L1244.3 523.1L1244.8 527L1244.9 522.7L1245.3 526.4L1245.6 523.7L1245.9 526L1246.2 523.9L1246.5 525.9L1246.8 523.6L1247.2 526.7L1247.4 523.4L1247.8 527.1L1247.9 522.3L1248.4 526.5L1248.5 522L1249 526.2L1249.1 523.3L1249.5 525.5L1249.7 523.3L1250.2 525.8L1250.3 523.2L1250.8 526.2L1250.9 523.4L1251.5 526.6L1251.4 522.3L1252.1 526.1L1252 522.8L1253.1 527.5L1252.5 523.7L1254.2 525.9L1252.8 523.8L1254.8 525.1L1252.2 523.3L1256 525L1254.4 523.5" stroke-dasharray="14 5"/>
<path d="M1254.4 523.5L1255 522.4L1255.1 521L1255.4 519.6L1255.7 518L1256 516.5L1256.3 515L1256.6 513.6L1257 512.1L1257.3 510.7L1257.6 509.3L1257.8 508.1L1258.1 506.9L1258.4 505.8L1258.7 504.8L1259 503.8L1259.4 502.8L1259.7 501.9L1260 501L1260.4 500.2L1260.7 499.3L1261 498.5L1261.3 497.7L1261.6 496.9L1261.9 496.2L1262.3 495.4L1262.6 494.7L1262.9 493.9L1263.2 493.2L1263.5 492.5L1263.8 491.8L1264.1 491L1264.4 490.3L1264.6 489.7L1264.9 489L1265.2 488.4L1265.5 487.8L1265.8 487.3L1266.1 486.8L1266.4 486.3L1266.7 485.9L1267 485.5L1267.3 485.2L1267.6 484.8L1267.9 484.4L1268.1 484.1L1268.4 483.8L1268.6 483.4L1268.9 483.1L1269.2 482.8L1269.5 482.5L1269.8 482.3L1270.1 482L1270.5 481.8L1270.8 481.5L1271.1 481.2L1271.4 480.8L1271.7 480.5L1272 480.1L1272.3 479.8L1272.6 479.4L1272.9 479L1273.2 478.6L1273.5 478.2L1273.8 477.9L1274 477.5L1274.3 477.1L1274.7 476.8L1275 476.5L1275.3 476.1L1275.6 475.8L1275.9 475.5L1276.2 475.1L1276.5 474.8L1276.7 474.4L1277 474.1L1277.3 473.8L1277.6 473.6L1277.9 473.3L1278.2 473.2L1278.5 473L1278.8 472.8L1279.1 472.6L1279.4 472.4L1279.7 472.2L1280 472L1280.3 471.8L1280.6 471.7L1280.9 471.5L1281.2 471.4L1281.6 471.3L1281.9 471.2L1282.2 471.1L1282.5 470.9L1282.8 470.8L1283.1 470.6L1283.4 470.4L1283.7 470.2L1283.9 470.1L1284.2 469.9L1284.6 469.8L1284.9 469.7L1285.2 469.6L1285.5 469.5L1285.8 469.5L1286.1 469.4L1286.4 469.3L1286.7 469.2L1287 469.1L1287.3 468.9L1287.6 468.8L1287.9 468.6L1288.2 468.5L1288.5 468.3L1288.7 468.2L1289 468.1L1289.3 468L1289.7 467.9L1290 467.9L1290.3 467.8L1290.6 467.8L1290.9 467.7L1291.2 467.6L1291.5 467.6L1291.8 467.5L1292.1 467.4L1292.4 467.3L1292.7 467.2L1293 467.1L1293.3 467L1293.6 466.9L1293.9 466.8L1294.2 466.8L1294.5 466.7L1294.8 466.7L1295.1 466.6L1295.4 466.6L1295.7 466.5L1296 466.5L1296.3 466.4L1296.6 466.3L1296.9 466.3L1297.2 466.2L1297.5 466.2L1297.8 466.1L1298.1 466.1L1298.4 466L1298.7 465.9L1299 465.8L1299.3 465.8L1299.6 465.7L1299.9 465.6L1300.2 465.6L1300.5 465.5L1300.8 465.4L1301.1 465.3L1301.4 465.2L1301.7 465.1L1302 465L1302.3 465L1302.6 464.9L1302.9 464.9L1303.2 464.9L1303.5 464.8L1303.8 464.7L1304.1 464.7L1304.4 464.6L1304.7 464.5L1305 464.5L1305.3 464.4L1305.6 464.4L1305.9 464.4L1306.2 464.3L1306.5 464.3L1306.8 464.3L1307.1 464.2L1307.4 464.2L1307.7 464.2L1308 464.2L1308.3 464.1L1308.6 464.1L1308.9 464L1309.2 464L1309.5 463.9L1309.8 463.9L1310.1 463.8L1310.4 463.8L1310.7 463.8L1311 463.9L1311.3 463.9L1311.6 463.9L1311.9 463.9L1312.2 463.9L1312.5 463.9L1312.8 463.9L1313.1 464L1313.4 464L1313.7 464L1314 464L1314.3 464L1314.6 464L1314.9 463.9L1315.2 463.9L1315.5 463.9L1315.8 463.9L1316.1 463.9L1316.4 463.8L1316.7 463.8L1317 463.8L1317.3 463.8L1317.6 463.9L1317.9 463.9L1318.2 464L1318.5 464L1318.8 464L1319.1 464L1319.4 463.9L1319.7 463.9L1320 463.8L1320.3 463.8L1320.6 463.7L1320.9 463.7L1321.2 463.6L1321.5 463.6L1321.8 463.6L1322.1 463.6L1322.4 463.6L1322.7 463.6L1323 463.7L1323.3 463.7L1323.6 463.7L1323.9 463.7L1324.2 463.7L1324.5 463.7L1324.8 463.7L1325.1 463.7L1325.4 463.7L1325.7 463.7L1326 463.7L1326.3 463.7L1326.6 463.7L1326.9 463.8L1327.2 463.8L1327.5 463.8L1327.8 463.8L1328.1 463.8L1328.4 463.8L1328.7 463.7L1329 463.7L1329.3 463.7L1329.6 463.7L1329.9 463.6L1330.2 463.6L1330.5 463.6L1330.8 463.7L1331.1 463.7L1331.4 463.7L1331.7 463.7L1332 463.7L1332.3 463.7L1332.6 463.7L1332.9 463.7L1333.2 463.8L1333.5 463.8" stroke-width="3.3" stroke-dasharray="0.1 14.6 30.9 11.6 21.9 9.3 21.7 999.0"/>

</g>
<!-- left axis labels -->
<g class="tick" text-anchor="end">
<text x="168.2" y="66.5">60</text>
<text x="168.2" y="202.8">40</text>
<text x="168.2" y="339.3">20</text>
<text x="168.2" y="475.8">0</text>
<text x="168.2" y="612.3" textLength="59" lengthAdjust="spacingAndGlyphs">−20</text>
<text x="168.2" y="748.8" textLength="59" lengthAdjust="spacingAndGlyphs">−40</text>
<text x="168.2" y="885.3" textLength="59" lengthAdjust="spacingAndGlyphs">−60</text>
</g>
<!-- right axis labels -->
<g class="tick">
<text x="1368" y="66.5">30</text>
<text x="1368" y="202.8">20</text>
<text x="1368" y="339.3">10</text>
<text x="1368" y="475.8">0</text>
<text x="1368" y="612.3" textLength="59" lengthAdjust="spacingAndGlyphs">−10</text>
<text x="1368" y="748.8" textLength="59" lengthAdjust="spacingAndGlyphs">−20</text>
<text x="1368" y="885.3" textLength="59" lengthAdjust="spacingAndGlyphs">−30</text>
</g>
<!-- x axis labels -->
<g class="tick" text-anchor="middle">
<text x="207.6" y="935.3">0</text>
<text x="457.8" y="935.3" textLength="105.5" lengthAdjust="spacingAndGlyphs">20,000</text>
<text x="706.4" y="935.3" textLength="105.5" lengthAdjust="spacingAndGlyphs">40,000</text>
<text x="956" y="935.3" textLength="105.5" lengthAdjust="spacingAndGlyphs">60,000</text>
<text x="1205.2" y="935.3" textLength="105.5" lengthAdjust="spacingAndGlyphs">80,000</text>
</g>
<!-- titles -->
<text class="ttl" x="640.3" y="1010.9" textLength="222" lengthAdjust="spacingAndGlyphs">Time [ s ]</text>
<text class="ttl" xml:space="preserve" transform="translate(70.2 0) rotate(-90)"><tspan x="-738.7" textLength="115.4" lengthAdjust="spacingAndGlyphs">Heat</tspan>  <tspan x="-596.1" textLength="90.9" lengthAdjust="spacingAndGlyphs">flux</tspan> <tspan x="-490.9" textLength="19" lengthAdjust="spacingAndGlyphs">[</tspan> <tspan x="-457.5" textLength="143.4" lengthAdjust="spacingAndGlyphs">W/m²</tspan> <tspan x="-297.6">]</tspan></text>
<text class="ttl" xml:space="preserve" transform="translate(1491.4 0) rotate(-90)"><tspan x="-686.3" textLength="312.2" lengthAdjust="spacingAndGlyphs">Temperature</tspan> <tspan x="-357.5">[</tspan> <tspan x="-329.7" textLength="54" lengthAdjust="spacingAndGlyphs">°C</tspan> <tspan x="-261.2">]</tspan></text>
<!-- legend -->
<line x1="395.4" y1="610.5" x2="452" y2="610.5" stroke="#ff0000" stroke-width="4"/>
<line x1="395.4" y1="684.8" x2="452" y2="684.8" stroke="#000" stroke-width="4.4" stroke-dasharray="32 12.2"/>
<g fill="#3f6ec5"><circle cx="407.8" cy="755.8" r="4.4"/><circle cx="426.4" cy="755.8" r="4.4"/><circle cx="445.1" cy="755.8" r="4.4"/></g>
<g class="leg">
<text x="475" y="622.9" textLength="257.5" lengthAdjust="spacingAndGlyphs">Binary solution</text>
<text x="475" y="696.7" textLength="228" lengthAdjust="spacingAndGlyphs">Experimental</text>
<text x="476" y="768.7" textLength="224" lengthAdjust="spacingAndGlyphs">Temperature</text>
</g>
</svg>
</body>
</html>
